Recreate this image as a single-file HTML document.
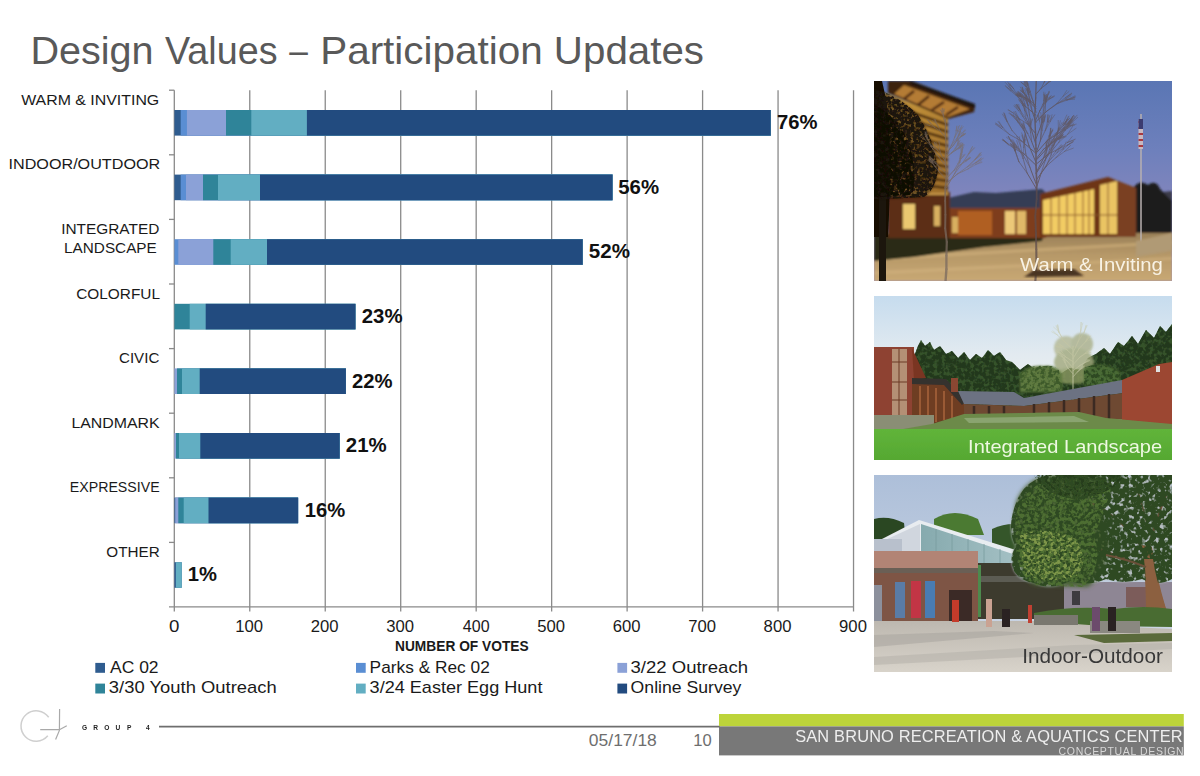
<!DOCTYPE html>
<html><head><meta charset="utf-8"><title>Design Values – Participation Updates</title>
<style>
html,body{margin:0;padding:0;background:#fff;}
body{width:1200px;height:776px;overflow:hidden;position:relative;font-family:"Liberation Sans",sans-serif;}
svg{position:absolute;left:0;top:0;}
</style></head>
<body>
<svg width="1200" height="776" viewBox="0 0 1200 776">
<line x1="249.77" y1="90.2" x2="249.77" y2="611.5" stroke="#8a8a8a" stroke-width="1.3"/>
<line x1="325.24" y1="90.2" x2="325.24" y2="611.5" stroke="#8a8a8a" stroke-width="1.3"/>
<line x1="400.71" y1="90.2" x2="400.71" y2="611.5" stroke="#8a8a8a" stroke-width="1.3"/>
<line x1="476.18" y1="90.2" x2="476.18" y2="611.5" stroke="#8a8a8a" stroke-width="1.3"/>
<line x1="551.65" y1="90.2" x2="551.65" y2="611.5" stroke="#8a8a8a" stroke-width="1.3"/>
<line x1="627.12" y1="90.2" x2="627.12" y2="611.5" stroke="#8a8a8a" stroke-width="1.3"/>
<line x1="702.59" y1="90.2" x2="702.59" y2="611.5" stroke="#8a8a8a" stroke-width="1.3"/>
<line x1="778.06" y1="90.2" x2="778.06" y2="611.5" stroke="#8a8a8a" stroke-width="1.3"/>
<line x1="853.53" y1="90.2" x2="853.53" y2="611.5" stroke="#8a8a8a" stroke-width="1.3"/>
<line x1="174.3" y1="90.2" x2="174.3" y2="611.5" stroke="#8a8a8a" stroke-width="1.3"/>
<line x1="169" y1="606.8" x2="854" y2="606.8" stroke="#8a8a8a" stroke-width="1.3"/>
<line x1="169" y1="90.20" x2="174.3" y2="90.20" stroke="#8a8a8a" stroke-width="1.3"/>
<line x1="169" y1="154.80" x2="174.3" y2="154.80" stroke="#8a8a8a" stroke-width="1.3"/>
<line x1="169" y1="219.40" x2="174.3" y2="219.40" stroke="#8a8a8a" stroke-width="1.3"/>
<line x1="169" y1="284.00" x2="174.3" y2="284.00" stroke="#8a8a8a" stroke-width="1.3"/>
<line x1="169" y1="348.60" x2="174.3" y2="348.60" stroke="#8a8a8a" stroke-width="1.3"/>
<line x1="169" y1="413.20" x2="174.3" y2="413.20" stroke="#8a8a8a" stroke-width="1.3"/>
<line x1="169" y1="477.80" x2="174.3" y2="477.80" stroke="#8a8a8a" stroke-width="1.3"/>
<line x1="169" y1="542.40" x2="174.3" y2="542.40" stroke="#8a8a8a" stroke-width="1.3"/>
<rect x="174.40" y="110.00" width="596.30" height="25.6" fill="#2f5c8f"/>
<rect x="180.70" y="110.00" width="590.00" height="25.6" fill="#5a8ed3"/>
<rect x="186.90" y="110.00" width="583.80" height="25.6" fill="#8ba1d7"/>
<rect x="226.00" y="110.00" width="544.70" height="25.6" fill="#2f8499"/>
<rect x="251.30" y="110.00" width="519.40" height="25.6" fill="#62aec2"/>
<rect x="306.90" y="110.00" width="463.80" height="25.6" fill="#224b7f"/>
<rect x="174.40" y="174.60" width="438.10" height="25.6" fill="#2f5c8f"/>
<rect x="180.70" y="174.60" width="431.80" height="25.6" fill="#5a8ed3"/>
<rect x="186.00" y="174.60" width="426.50" height="25.6" fill="#8ba1d7"/>
<rect x="203.00" y="174.60" width="409.50" height="25.6" fill="#2f8499"/>
<rect x="218.00" y="174.60" width="394.50" height="25.6" fill="#62aec2"/>
<rect x="260.00" y="174.60" width="352.50" height="25.6" fill="#224b7f"/>
<rect x="174.40" y="239.20" width="408.30" height="25.6" fill="#5a8ed3"/>
<rect x="178.30" y="239.20" width="404.40" height="25.6" fill="#8ba1d7"/>
<rect x="213.30" y="239.20" width="369.40" height="25.6" fill="#2f8499"/>
<rect x="230.70" y="239.20" width="352.00" height="25.6" fill="#62aec2"/>
<rect x="267.00" y="239.20" width="315.70" height="25.6" fill="#224b7f"/>
<rect x="174.40" y="303.80" width="181.10" height="25.6" fill="#2f8499"/>
<rect x="189.70" y="303.80" width="165.80" height="25.6" fill="#62aec2"/>
<rect x="205.70" y="303.80" width="149.80" height="25.6" fill="#224b7f"/>
<rect x="174.40" y="368.40" width="171.50" height="25.6" fill="#8ba1d7"/>
<rect x="177.00" y="368.40" width="168.90" height="25.6" fill="#2f8499"/>
<rect x="182.00" y="368.40" width="163.90" height="25.6" fill="#62aec2"/>
<rect x="199.70" y="368.40" width="146.20" height="25.6" fill="#224b7f"/>
<rect x="174.40" y="433.00" width="165.30" height="25.6" fill="#8ba1d7"/>
<rect x="176.00" y="433.00" width="163.70" height="25.6" fill="#2f8499"/>
<rect x="179.00" y="433.00" width="160.70" height="25.6" fill="#62aec2"/>
<rect x="200.30" y="433.00" width="139.40" height="25.6" fill="#224b7f"/>
<rect x="174.40" y="497.60" width="123.70" height="25.6" fill="#2f5c8f"/>
<rect x="175.20" y="497.60" width="122.90" height="25.6" fill="#8ba1d7"/>
<rect x="178.30" y="497.60" width="119.80" height="25.6" fill="#2f8499"/>
<rect x="183.70" y="497.60" width="114.40" height="25.6" fill="#62aec2"/>
<rect x="208.50" y="497.60" width="89.60" height="25.6" fill="#224b7f"/>
<rect x="174.40" y="562.20" width="7.35" height="25.6" fill="#2f5c8f"/>
<rect x="175.90" y="562.20" width="5.85" height="25.6" fill="#62aec2"/>
<rect x="95.3" y="662.9" width="9.7" height="9.9" fill="#2f5c8f"/>
<rect x="356.0" y="662.9" width="9.7" height="9.9" fill="#5a8ed3"/>
<rect x="617.4" y="662.9" width="9.7" height="9.9" fill="#8ba1d7"/>
<rect x="95.3" y="683.6" width="9.7" height="9.9" fill="#2f8499"/>
<rect x="356.0" y="683.6" width="9.7" height="9.9" fill="#62aec2"/>
<rect x="617.4" y="683.6" width="9.7" height="9.9" fill="#224b7f"/>
<text x="30.42" y="63.80" font-family="Liberation Sans" font-size="38.5" font-weight="normal" fill="#595959" textLength="123.18" lengthAdjust="spacingAndGlyphs">Design</text>
<text x="165.00" y="63.80" font-family="Liberation Sans" font-size="38.5" font-weight="normal" fill="#595959" textLength="112.56" lengthAdjust="spacingAndGlyphs">Values</text>
<text x="289.20" y="63.80" font-family="Liberation Sans" font-size="38.5" font-weight="normal" fill="#595959" textLength="18.60" lengthAdjust="spacingAndGlyphs">–</text>
<text x="320.15" y="63.80" font-family="Liberation Sans" font-size="38.5" font-weight="normal" fill="#595959" textLength="222.72" lengthAdjust="spacingAndGlyphs">Participation</text>
<text x="553.86" y="63.80" font-family="Liberation Sans" font-size="38.5" font-weight="normal" fill="#595959" textLength="150.11" lengthAdjust="spacingAndGlyphs">Updates</text>
<text x="21.20" y="105.00" font-family="Liberation Sans" font-size="14.8" font-weight="normal" fill="#1a1a1a" textLength="138.05" lengthAdjust="spacingAndGlyphs">WARM &amp; INVITING</text>
<text x="8.51" y="169.20" font-family="Liberation Sans" font-size="14.8" font-weight="normal" fill="#1a1a1a" textLength="151.72" lengthAdjust="spacingAndGlyphs">INDOOR/OUTDOOR</text>
<text x="61.16" y="233.60" font-family="Liberation Sans" font-size="14.8" font-weight="normal" fill="#1a1a1a" textLength="98.12" lengthAdjust="spacingAndGlyphs">INTEGRATED</text>
<text x="64.07" y="252.90" font-family="Liberation Sans" font-size="14.8" font-weight="normal" fill="#1a1a1a" textLength="92.70" lengthAdjust="spacingAndGlyphs">LANDSCAPE</text>
<text x="76.16" y="298.60" font-family="Liberation Sans" font-size="14.8" font-weight="normal" fill="#1a1a1a" textLength="83.84" lengthAdjust="spacingAndGlyphs">COLORFUL</text>
<text x="118.98" y="363.00" font-family="Liberation Sans" font-size="14.8" font-weight="normal" fill="#1a1a1a" textLength="40.40" lengthAdjust="spacingAndGlyphs">CIVIC</text>
<text x="71.43" y="427.50" font-family="Liberation Sans" font-size="14.8" font-weight="normal" fill="#1a1a1a" textLength="88.22" lengthAdjust="spacingAndGlyphs">LANDMARK</text>
<text x="69.84" y="492.00" font-family="Liberation Sans" font-size="14.8" font-weight="normal" fill="#1a1a1a" textLength="89.79" lengthAdjust="spacingAndGlyphs">EXPRESSIVE</text>
<text x="106.37" y="556.70" font-family="Liberation Sans" font-size="14.8" font-weight="normal" fill="#1a1a1a" textLength="53.35" lengthAdjust="spacingAndGlyphs">OTHER</text>
<text x="776.97" y="129.10" font-family="Liberation Sans" font-size="19.6" font-weight="bold" fill="#111" textLength="40.46" lengthAdjust="spacingAndGlyphs">76%</text>
<text x="618.26" y="193.70" font-family="Liberation Sans" font-size="19.6" font-weight="bold" fill="#111" textLength="40.77" lengthAdjust="spacingAndGlyphs">56%</text>
<text x="588.75" y="258.30" font-family="Liberation Sans" font-size="19.6" font-weight="bold" fill="#111" textLength="41.18" lengthAdjust="spacingAndGlyphs">52%</text>
<text x="361.76" y="322.90" font-family="Liberation Sans" font-size="19.6" font-weight="bold" fill="#111" textLength="40.77" lengthAdjust="spacingAndGlyphs">23%</text>
<text x="351.97" y="387.50" font-family="Liberation Sans" font-size="19.6" font-weight="bold" fill="#111" textLength="40.56" lengthAdjust="spacingAndGlyphs">22%</text>
<text x="345.86" y="452.10" font-family="Liberation Sans" font-size="19.6" font-weight="bold" fill="#111" textLength="40.77" lengthAdjust="spacingAndGlyphs">21%</text>
<text x="304.87" y="516.70" font-family="Liberation Sans" font-size="19.6" font-weight="bold" fill="#111" textLength="40.46" lengthAdjust="spacingAndGlyphs">16%</text>
<text x="187.67" y="581.10" font-family="Liberation Sans" font-size="19.6" font-weight="bold" fill="#111" textLength="29.17" lengthAdjust="spacingAndGlyphs">1%</text>
<text x="395.00" y="651.20" font-family="Liberation Sans" font-size="13.8" font-weight="bold" fill="#1a1a1a" textLength="133.65" lengthAdjust="spacingAndGlyphs">NUMBER OF VOTES</text>
<text x="110.00" y="672.50" font-family="Liberation Sans" font-size="16.2" font-weight="normal" fill="#1a1a1a" textLength="48.58" lengthAdjust="spacingAndGlyphs">AC 02</text>
<text x="369.63" y="672.50" font-family="Liberation Sans" font-size="16.2" font-weight="normal" fill="#1a1a1a" textLength="120.17" lengthAdjust="spacingAndGlyphs">Parks &amp; Rec 02</text>
<text x="630.56" y="672.50" font-family="Liberation Sans" font-size="16.2" font-weight="normal" fill="#1a1a1a" textLength="117.42" lengthAdjust="spacingAndGlyphs">3/22 Outreach</text>
<text x="108.86" y="692.60" font-family="Liberation Sans" font-size="16.2" font-weight="normal" fill="#1a1a1a" textLength="167.83" lengthAdjust="spacingAndGlyphs">3/30 Youth Outreach</text>
<text x="369.58" y="692.60" font-family="Liberation Sans" font-size="16.2" font-weight="normal" fill="#1a1a1a" textLength="172.87" lengthAdjust="spacingAndGlyphs">3/24 Easter Egg Hunt</text>
<text x="630.61" y="692.60" font-family="Liberation Sans" font-size="16.2" font-weight="normal" fill="#1a1a1a" textLength="110.73" lengthAdjust="spacingAndGlyphs">Online Survey</text>
<text x="588.88" y="746.00" font-family="Liberation Sans" font-size="15.6" font-weight="normal" fill="#6e6e6e" textLength="67.91" lengthAdjust="spacingAndGlyphs">05/17/18</text>
<text x="693.34" y="746.00" font-family="Liberation Sans" font-size="15.6" font-weight="normal" fill="#6e6e6e" textLength="18.44" lengthAdjust="spacingAndGlyphs">10</text>
<text x="168.90" y="632.00" font-family="Liberation Sans" font-size="15.6" font-weight="normal" fill="#1a1a1a" textLength="10.42" lengthAdjust="spacingAndGlyphs">0</text>
<text x="235.35" y="632.00" font-family="Liberation Sans" font-size="15.6" font-weight="normal" fill="#1a1a1a" textLength="27.80" lengthAdjust="spacingAndGlyphs">100</text>
<text x="310.82" y="632.00" font-family="Liberation Sans" font-size="15.6" font-weight="normal" fill="#1a1a1a" textLength="27.80" lengthAdjust="spacingAndGlyphs">200</text>
<text x="386.29" y="632.00" font-family="Liberation Sans" font-size="15.6" font-weight="normal" fill="#1a1a1a" textLength="27.80" lengthAdjust="spacingAndGlyphs">300</text>
<text x="462.83" y="632.00" font-family="Liberation Sans" font-size="15.6" font-weight="normal" fill="#1a1a1a" textLength="26.73" lengthAdjust="spacingAndGlyphs">400</text>
<text x="537.23" y="632.00" font-family="Liberation Sans" font-size="15.6" font-weight="normal" fill="#1a1a1a" textLength="27.80" lengthAdjust="spacingAndGlyphs">500</text>
<text x="612.70" y="632.00" font-family="Liberation Sans" font-size="15.6" font-weight="normal" fill="#1a1a1a" textLength="27.80" lengthAdjust="spacingAndGlyphs">600</text>
<text x="688.17" y="632.00" font-family="Liberation Sans" font-size="15.6" font-weight="normal" fill="#1a1a1a" textLength="27.80" lengthAdjust="spacingAndGlyphs">700</text>
<text x="763.64" y="632.00" font-family="Liberation Sans" font-size="15.6" font-weight="normal" fill="#1a1a1a" textLength="27.80" lengthAdjust="spacingAndGlyphs">800</text>
<text x="839.11" y="632.00" font-family="Liberation Sans" font-size="15.6" font-weight="normal" fill="#1a1a1a" textLength="27.80" lengthAdjust="spacingAndGlyphs">900</text>
<defs>
<clipPath id="c1"><rect x="0" y="0" width="298" height="200"/></clipPath>
<clipPath id="c2"><rect x="0" y="0" width="298" height="164"/></clipPath>
<clipPath id="c3"><rect x="0" y="0" width="298" height="197"/></clipPath>
<filter id="b05" x="-10%" y="-10%" width="120%" height="120%"><feGaussianBlur stdDeviation="0.5"/></filter>
<filter id="b1" x="-10%" y="-10%" width="120%" height="120%"><feGaussianBlur stdDeviation="0.9"/></filter>
<filter id="b2" x="-10%" y="-10%" width="120%" height="120%"><feGaussianBlur stdDeviation="2"/></filter>
<filter id="leaf" x="0" y="0" width="100%" height="100%">
 <feTurbulence type="fractalNoise" baseFrequency="0.3" numOctaves="2" seed="3" result="n"/>
 <feColorMatrix in="n" type="matrix" values="0 0 0 0 0  0 0 0 0 0  0 0 0 0 0  0 0 0 -5 3.4" result="m"/>
 <feComposite in="SourceGraphic" in2="m" operator="in"/>
</filter>
<filter id="leafA" x="0" y="0" width="100%" height="100%">
 <feTurbulence type="fractalNoise" baseFrequency="0.22" numOctaves="2" seed="5" result="n"/>
 <feColorMatrix in="n" type="matrix" values="0 0 0 0 0  0 0 0 0 0  0 0 0 0 0  0 0 0 -5 3.75" result="m"/>
 <feComposite in="SourceGraphic" in2="m" operator="in"/>
</filter>
<filter id="leafB" x="0" y="0" width="100%" height="100%">
 <feTurbulence type="fractalNoise" baseFrequency="0.28" numOctaves="2" seed="8" result="n"/>
 <feColorMatrix in="n" type="matrix" values="0 0 0 0 0  0 0 0 0 0  0 0 0 0 0  0 0 0 -5 2.9" result="m"/>
 <feComposite in="SourceGraphic" in2="m" operator="in"/>
</filter>
<filter id="leafC" x="0" y="0" width="100%" height="100%">
 <feTurbulence type="fractalNoise" baseFrequency="0.3" numOctaves="2" seed="12" result="n"/>
 <feColorMatrix in="n" type="matrix" values="0 0 0 0 0  0 0 0 0 0  0 0 0 0 0  0 0 0 -5 2.7" result="m"/>
 <feComposite in="SourceGraphic" in2="m" operator="in"/>
</filter>
<filter id="leaf2" x="0" y="0" width="100%" height="100%">
 <feTurbulence type="fractalNoise" baseFrequency="0.25" numOctaves="2" seed="9" result="n"/>
 <feColorMatrix in="n" type="matrix" values="0 0 0 0 0  0 0 0 0 0  0 0 0 0 0  0 0 0 -5 3.3" result="m"/>
 <feComposite in="SourceGraphic" in2="m" operator="in"/>
</filter>
<linearGradient id="sky1" x1="0" y1="0" x2="0" y2="1">
 <stop offset="0" stop-color="#5a76b4"/><stop offset="0.35" stop-color="#6e80bc"/><stop offset="0.7" stop-color="#8a88bc"/><stop offset="1" stop-color="#a090b8"/>
</linearGradient>
<linearGradient id="pave1" x1="0" y1="0" x2="0" y2="1">
 <stop offset="0" stop-color="#9a8058"/><stop offset="0.45" stop-color="#b69868"/><stop offset="1" stop-color="#c8a874"/>
</linearGradient>
<linearGradient id="fac1" x1="0" y1="0" x2="1" y2="1">
 <stop offset="0" stop-color="#d0a040"/><stop offset="1" stop-color="#9c6c2a"/>
</linearGradient>
<linearGradient id="sky2" x1="0" y1="0" x2="0" y2="1">
 <stop offset="0" stop-color="#c6dcee"/><stop offset="0.35" stop-color="#e2eaf0"/><stop offset="0.6" stop-color="#eff1ef"/><stop offset="1" stop-color="#f5f4ec"/>
</linearGradient>
<linearGradient id="lawn2" x1="0" y1="0" x2="0" y2="1">
 <stop offset="0" stop-color="#60b43a"/><stop offset="1" stop-color="#56a832"/>
</linearGradient>
<linearGradient id="sky3" x1="0" y1="0" x2="0" y2="1">
 <stop offset="0" stop-color="#adbfd9"/><stop offset="1" stop-color="#d2dae6"/>
</linearGradient>
<linearGradient id="plaza3" x1="0" y1="0" x2="0" y2="1">
 <stop offset="0" stop-color="#bdb8b0"/><stop offset="1" stop-color="#d8d3ca"/>
</linearGradient>
<linearGradient id="glass3" x1="0" y1="0" x2="1" y2="0">
 <stop offset="0" stop-color="#86aaae"/><stop offset="1" stop-color="#a4c0c4"/>
</linearGradient>
</defs>

<!-- PHOTO 1: Warm & Inviting -->
<g transform="translate(874,81)" clip-path="url(#c1)">
 <rect width="298" height="200" fill="url(#sky1)"/>
 <g filter="url(#b1)">
 <!-- far right trees/hills -->
 <path d="M262 118 L280 112 L298 110 L298 160 L262 160Z" fill="#3a3a4a"/>
 <path d="M260 106 q6 -8 14 -2 q8 -6 12 4 L298 120 L298 158 L260 158Z" fill="#1c1d1c"/>
 <!-- pavement -->
 <rect x="0" y="152" width="298" height="48" fill="url(#pave1)"/>
 <path d="M0 176 L298 160 L298 163 L0 180Z" fill="#d0b07c" opacity="0.6"/>
 <path d="M0 190 L298 176 L298 179 L0 194Z" fill="#d4b480" opacity="0.5"/>
 <!-- grass band left -->
 <path d="M0 153 L170 154 L168 160 L110 166 L40 176 L0 180Z" fill="#2a2c18"/>
 <!-- middle long building roof -->
 <path d="M74 117 L100 111 L122 112 L168 108 L172 112 L172 130 L74 130Z" fill="#343c54"/>
 <!-- middle building body -->
 <rect x="76" y="127" width="96" height="30" fill="#7e3e1a"/>
 <rect x="84" y="130" width="34" height="24" fill="#b05e20"/>
 <rect x="131" y="130" width="10" height="23" fill="#ecc878"/>
 <rect x="143" y="130" width="9" height="23" fill="#e0b868"/>
 <rect x="78" y="136" width="6" height="16" fill="#d8b060"/>
 <!-- big lit building -->
 <path d="M166 113 L234 96 L262 107 L262 156 L166 156Z" fill="#6e3618"/>
 <path d="M169 119 L220 108 L220 153 L169 153Z" fill="#f2cc64"/>
 <path d="M226 104 L243 100 L243 153 L226 153Z" fill="#eac464"/>
 <g stroke="#8a5a28" stroke-width="1">
  <line x1="177" y1="117" x2="177" y2="153"/><line x1="185" y1="115" x2="185" y2="153"/><line x1="193" y1="113" x2="193" y2="153"/><line x1="201" y1="112" x2="201" y2="153"/><line x1="209" y1="110" x2="209" y2="153"/><line x1="215" y1="109" x2="215" y2="153"/>
  <line x1="169" y1="134" x2="243" y2="134"/><line x1="234" y1="102" x2="234" y2="153"/>
 </g>
 <path d="M243 100 L262 107 L262 156 L243 156Z" fill="#7a4020"/>
 <!-- left lower building -->
 <rect x="14" y="111" width="62" height="46" fill="#5c2e14"/>
 <rect x="29" y="123" width="12" height="25" fill="#eac870"/>
 <rect x="60" y="125" width="6" height="20" fill="#d8b060"/>
 <rect x="14" y="108" width="60" height="6" fill="#c89848"/>
 <!-- left upper building louvers -->
 <path d="M0 8 L74 36 L74 112 L0 112Z" fill="url(#fac1)"/>
 <g stroke="#4a2a10" stroke-width="2.6">
  <line x1="0" y1="18" x2="74" y2="44"/><line x1="0" y1="27" x2="74" y2="51"/><line x1="0" y1="36" x2="74" y2="58"/>
  <line x1="0" y1="45" x2="74" y2="65"/><line x1="0" y1="54" x2="74" y2="72"/><line x1="0" y1="63" x2="74" y2="79"/>
  <line x1="0" y1="72" x2="74" y2="86"/><line x1="0" y1="81" x2="74" y2="93"/><line x1="0" y1="90" x2="74" y2="100"/><line x1="0" y1="99" x2="74" y2="107"/>
 </g>
 <!-- roof overhang -->
 <path d="M14 0 L38 0 L101 24 L100 31 L74 38 L14 12Z" fill="#3e2010"/>
 <path d="M30 4 L96 28 L74 36 L20 13Z" fill="#b47c34"/>
 <g stroke="#4a2612" stroke-width="2.5"><line x1="40" y1="10" x2="30" y2="18"/><line x1="55" y1="15" x2="44" y2="24"/><line x1="70" y1="21" x2="58" y2="29"/><line x1="84" y1="26" x2="72" y2="34"/></g>
 <path d="M36 0 L101 23 L101 27 L36 3Z" fill="#1e1410"/>
 </g>
 <!-- dark tree left (textured) -->
 <g filter="url(#b05)">
 <path d="M0 0 L8 0 Q16 30 16 70 Q16 120 14 156 L0 156Z" fill="#120c06"/>
 <rect x="5" y="100" width="7" height="100" fill="#1a120a"/>
 </g>
 <path d="M0 8 Q24 14 44 34 Q60 58 64 88 Q62 108 50 116 L14 118 L0 118Z" fill="#1a120a" opacity="0.45" filter="url(#b1)"/>
 <g filter="url(#leaf)"><path d="M0 8 Q24 14 44 34 Q60 58 64 88 Q62 108 50 116 L14 118 L0 118Z" fill="#1a120a"/></g>
 <g filter="url(#leaf2)"><path d="M0 24 Q22 34 34 60 Q44 90 38 114 L0 116Z" fill="#100a06"/></g>
 <!-- bare trees -->
 <g filter="url(#b05)">
 <g stroke="#5e4e4c" opacity="0.75" stroke-linecap="round" fill="none"><line x1="161.2" y1="202.0" x2="162.5" y2="185.2" stroke-width="2.20"/><line x1="162.5" y1="185.2" x2="162.3" y2="168.3" stroke-width="2.11"/><line x1="162.3" y1="168.3" x2="161.9" y2="151.5" stroke-width="2.02"/><line x1="161.9" y1="151.5" x2="161.3" y2="134.7" stroke-width="1.93"/><line x1="161.3" y1="134.7" x2="162.7" y2="117.8" stroke-width="1.83"/><line x1="162.7" y1="117.8" x2="162.7" y2="101.0" stroke-width="1.74"/><line x1="162.7" y1="101.0" x2="162.0" y2="84.2" stroke-width="1.65"/><line x1="162.0" y1="84.2" x2="162.0" y2="67.3" stroke-width="1.56"/><line x1="162.0" y1="67.3" x2="161.4" y2="50.5" stroke-width="1.47"/><line x1="161.4" y1="50.5" x2="160.8" y2="33.7" stroke-width="1.38"/><line x1="160.8" y1="33.7" x2="161.7" y2="16.8" stroke-width="1.28"/><line x1="161.7" y1="16.8" x2="162.2" y2="0.0" stroke-width="1.19"/><line x1="162.0" y1="13.0" x2="167.3" y2="7.2" stroke-width="1.00"/><line x1="167.3" y1="7.2" x2="170.3" y2="1.1" stroke-width="0.70"/><line x1="170.3" y1="1.1" x2="173.8" y2="-3.0" stroke-width="0.50"/><line x1="173.8" y1="-3.0" x2="176.1" y2="-6.4" stroke-width="0.50"/><line x1="173.8" y1="-3.0" x2="175.8" y2="-7.1" stroke-width="0.50"/><line x1="170.3" y1="1.1" x2="172.1" y2="-3.3" stroke-width="0.50"/><line x1="172.1" y1="-3.3" x2="172.7" y2="-7.4" stroke-width="0.50"/><line x1="172.1" y1="-3.3" x2="173.4" y2="-6.8" stroke-width="0.50"/><line x1="172.1" y1="-3.3" x2="173.1" y2="-6.9" stroke-width="0.50"/><line x1="170.3" y1="1.1" x2="171.6" y2="-3.4" stroke-width="0.50"/><line x1="171.6" y1="-3.4" x2="171.9" y2="-7.2" stroke-width="0.50"/><line x1="171.6" y1="-3.4" x2="171.9" y2="-7.3" stroke-width="0.50"/><line x1="171.6" y1="-3.4" x2="173.4" y2="-6.7" stroke-width="0.50"/><line x1="167.3" y1="7.2" x2="172.2" y2="3.4" stroke-width="0.70"/><line x1="172.2" y1="3.4" x2="175.2" y2="-0.3" stroke-width="0.50"/><line x1="175.2" y1="-0.3" x2="177.1" y2="-3.8" stroke-width="0.50"/><line x1="175.2" y1="-0.3" x2="178.0" y2="-2.5" stroke-width="0.50"/><line x1="175.2" y1="-0.3" x2="177.2" y2="-3.3" stroke-width="0.50"/><line x1="172.2" y1="3.4" x2="176.2" y2="-0.1" stroke-width="0.50"/><line x1="176.2" y1="-0.1" x2="178.1" y2="-3.3" stroke-width="0.50"/><line x1="176.2" y1="-0.1" x2="180.0" y2="-2.7" stroke-width="0.50"/><line x1="172.2" y1="3.4" x2="176.0" y2="0.5" stroke-width="0.50"/><line x1="176.0" y1="0.5" x2="179.0" y2="-1.2" stroke-width="0.50"/><line x1="176.0" y1="0.5" x2="179.1" y2="-1.6" stroke-width="0.50"/><line x1="162.0" y1="71.8" x2="157.6" y2="60.5" stroke-width="1.00"/><line x1="157.6" y1="60.5" x2="156.6" y2="51.4" stroke-width="0.70"/><line x1="156.6" y1="51.4" x2="155.2" y2="45.3" stroke-width="0.50"/><line x1="155.2" y1="45.3" x2="155.1" y2="40.1" stroke-width="0.50"/><line x1="155.2" y1="45.3" x2="153.7" y2="40.4" stroke-width="0.50"/><line x1="156.6" y1="51.4" x2="156.7" y2="43.8" stroke-width="0.50"/><line x1="156.7" y1="43.8" x2="156.3" y2="37.3" stroke-width="0.50"/><line x1="156.7" y1="43.8" x2="158.4" y2="38.1" stroke-width="0.50"/><line x1="156.7" y1="43.8" x2="158.1" y2="38.1" stroke-width="0.50"/><line x1="157.6" y1="60.5" x2="153.7" y2="52.5" stroke-width="0.70"/><line x1="153.7" y1="52.5" x2="149.9" y2="47.7" stroke-width="0.50"/><line x1="149.9" y1="47.7" x2="147.7" y2="43.5" stroke-width="0.50"/><line x1="149.9" y1="47.7" x2="148.1" y2="43.9" stroke-width="0.50"/><line x1="149.9" y1="47.7" x2="146.7" y2="44.6" stroke-width="0.50"/><line x1="153.7" y1="52.5" x2="150.7" y2="47.0" stroke-width="0.50"/><line x1="150.7" y1="47.0" x2="147.7" y2="42.6" stroke-width="0.50"/><line x1="150.7" y1="47.0" x2="149.7" y2="42.0" stroke-width="0.50"/><line x1="153.7" y1="52.5" x2="150.8" y2="46.8" stroke-width="0.50"/><line x1="150.8" y1="46.8" x2="148.6" y2="42.1" stroke-width="0.50"/><line x1="150.8" y1="46.8" x2="147.7" y2="43.4" stroke-width="0.50"/><line x1="150.8" y1="46.8" x2="149.5" y2="41.6" stroke-width="0.50"/><line x1="162.0" y1="99.4" x2="172.3" y2="85.2" stroke-width="1.00"/><line x1="172.3" y1="85.2" x2="182.1" y2="76.6" stroke-width="0.70"/><line x1="182.1" y1="76.6" x2="188.9" y2="68.6" stroke-width="0.50"/><line x1="188.9" y1="68.6" x2="195.6" y2="62.5" stroke-width="0.50"/><line x1="188.9" y1="68.6" x2="192.2" y2="60.9" stroke-width="0.50"/><line x1="182.1" y1="76.6" x2="190.8" y2="70.3" stroke-width="0.50"/><line x1="190.8" y1="70.3" x2="196.5" y2="64.5" stroke-width="0.50"/><line x1="190.8" y1="70.3" x2="199.3" y2="67.2" stroke-width="0.50"/><line x1="172.3" y1="85.2" x2="177.1" y2="73.9" stroke-width="0.70"/><line x1="177.1" y1="73.9" x2="178.0" y2="64.6" stroke-width="0.50"/><line x1="178.0" y1="64.6" x2="180.5" y2="57.6" stroke-width="0.50"/><line x1="178.0" y1="64.6" x2="177.1" y2="57.4" stroke-width="0.50"/><line x1="177.1" y1="73.9" x2="179.8" y2="64.8" stroke-width="0.50"/><line x1="179.8" y1="64.8" x2="180.3" y2="58.1" stroke-width="0.50"/><line x1="179.8" y1="64.8" x2="181.4" y2="57.4" stroke-width="0.50"/><line x1="162.0" y1="64.1" x2="157.2" y2="47.9" stroke-width="1.00"/><line x1="157.2" y1="47.9" x2="155.5" y2="34.0" stroke-width="0.70"/><line x1="155.5" y1="34.0" x2="154.2" y2="24.5" stroke-width="0.50"/><line x1="154.2" y1="24.5" x2="151.5" y2="17.2" stroke-width="0.50"/><line x1="154.2" y1="24.5" x2="151.9" y2="17.1" stroke-width="0.50"/><line x1="154.2" y1="24.5" x2="152.5" y2="18.1" stroke-width="0.50"/><line x1="155.5" y1="34.0" x2="153.6" y2="24.0" stroke-width="0.50"/><line x1="153.6" y1="24.0" x2="151.1" y2="16.4" stroke-width="0.50"/><line x1="153.6" y1="24.0" x2="152.2" y2="15.3" stroke-width="0.50"/><line x1="153.6" y1="24.0" x2="150.2" y2="16.6" stroke-width="0.50"/><line x1="157.2" y1="47.9" x2="153.3" y2="34.7" stroke-width="0.70"/><line x1="153.3" y1="34.7" x2="148.9" y2="24.5" stroke-width="0.50"/><line x1="148.9" y1="24.5" x2="146.2" y2="17.3" stroke-width="0.50"/><line x1="148.9" y1="24.5" x2="147.0" y2="15.2" stroke-width="0.50"/><line x1="153.3" y1="34.7" x2="149.6" y2="25.2" stroke-width="0.50"/><line x1="149.6" y1="25.2" x2="145.5" y2="19.5" stroke-width="0.50"/><line x1="149.6" y1="25.2" x2="144.5" y2="18.5" stroke-width="0.50"/><line x1="149.6" y1="25.2" x2="147.9" y2="17.7" stroke-width="0.50"/><line x1="153.3" y1="34.7" x2="151.3" y2="25.5" stroke-width="0.50"/><line x1="151.3" y1="25.5" x2="149.6" y2="18.4" stroke-width="0.50"/><line x1="151.3" y1="25.5" x2="149.4" y2="18.6" stroke-width="0.50"/><line x1="157.2" y1="47.9" x2="151.9" y2="37.4" stroke-width="0.70"/><line x1="151.9" y1="37.4" x2="146.5" y2="29.8" stroke-width="0.50"/><line x1="146.5" y1="29.8" x2="143.1" y2="23.4" stroke-width="0.50"/><line x1="146.5" y1="29.8" x2="141.5" y2="24.8" stroke-width="0.50"/><line x1="146.5" y1="29.8" x2="142.1" y2="23.7" stroke-width="0.50"/><line x1="151.9" y1="37.4" x2="150.6" y2="29.4" stroke-width="0.50"/><line x1="150.6" y1="29.4" x2="149.4" y2="23.0" stroke-width="0.50"/><line x1="150.6" y1="29.4" x2="151.0" y2="22.8" stroke-width="0.50"/><line x1="162.0" y1="72.3" x2="173.6" y2="59.2" stroke-width="1.00"/><line x1="173.6" y1="59.2" x2="184.1" y2="50.0" stroke-width="0.70"/><line x1="184.1" y1="50.0" x2="193.5" y2="45.3" stroke-width="0.50"/><line x1="193.5" y1="45.3" x2="202.2" y2="43.1" stroke-width="0.50"/><line x1="193.5" y1="45.3" x2="200.6" y2="44.2" stroke-width="0.50"/><line x1="184.1" y1="50.0" x2="191.0" y2="42.3" stroke-width="0.50"/><line x1="191.0" y1="42.3" x2="194.9" y2="35.3" stroke-width="0.50"/><line x1="191.0" y1="42.3" x2="194.4" y2="35.5" stroke-width="0.50"/><line x1="173.6" y1="59.2" x2="185.6" y2="51.6" stroke-width="0.70"/><line x1="185.6" y1="51.6" x2="193.9" y2="42.8" stroke-width="0.50"/><line x1="193.9" y1="42.8" x2="198.7" y2="35.3" stroke-width="0.50"/><line x1="193.9" y1="42.8" x2="201.2" y2="36.4" stroke-width="0.50"/><line x1="193.9" y1="42.8" x2="199.8" y2="34.3" stroke-width="0.50"/><line x1="185.6" y1="51.6" x2="193.6" y2="45.1" stroke-width="0.50"/><line x1="193.6" y1="45.1" x2="198.8" y2="38.7" stroke-width="0.50"/><line x1="193.6" y1="45.1" x2="198.9" y2="38.9" stroke-width="0.50"/><line x1="193.6" y1="45.1" x2="198.9" y2="39.5" stroke-width="0.50"/><line x1="173.6" y1="59.2" x2="184.8" y2="52.0" stroke-width="0.70"/><line x1="184.8" y1="52.0" x2="193.4" y2="47.4" stroke-width="0.50"/><line x1="193.4" y1="47.4" x2="199.4" y2="43.6" stroke-width="0.50"/><line x1="193.4" y1="47.4" x2="199.8" y2="42.1" stroke-width="0.50"/><line x1="184.8" y1="52.0" x2="192.0" y2="43.7" stroke-width="0.50"/><line x1="192.0" y1="43.7" x2="197.6" y2="38.6" stroke-width="0.50"/><line x1="192.0" y1="43.7" x2="196.9" y2="37.9" stroke-width="0.50"/><line x1="192.0" y1="43.7" x2="198.2" y2="37.3" stroke-width="0.50"/><line x1="162.0" y1="31.2" x2="158.9" y2="19.8" stroke-width="1.00"/><line x1="158.9" y1="19.8" x2="155.5" y2="11.4" stroke-width="0.70"/><line x1="155.5" y1="11.4" x2="152.6" y2="5.8" stroke-width="0.50"/><line x1="152.6" y1="5.8" x2="151.4" y2="1.1" stroke-width="0.50"/><line x1="152.6" y1="5.8" x2="149.6" y2="2.5" stroke-width="0.50"/><line x1="152.6" y1="5.8" x2="150.2" y2="1.5" stroke-width="0.50"/><line x1="155.5" y1="11.4" x2="151.6" y2="5.2" stroke-width="0.50"/><line x1="151.6" y1="5.2" x2="149.8" y2="-0.8" stroke-width="0.50"/><line x1="151.6" y1="5.2" x2="147.2" y2="1.4" stroke-width="0.50"/><line x1="151.6" y1="5.2" x2="147.0" y2="0.9" stroke-width="0.50"/><line x1="155.5" y1="11.4" x2="153.8" y2="4.3" stroke-width="0.50"/><line x1="153.8" y1="4.3" x2="150.9" y2="-1.0" stroke-width="0.50"/><line x1="153.8" y1="4.3" x2="152.9" y2="-1.4" stroke-width="0.50"/><line x1="158.9" y1="19.8" x2="156.2" y2="10.4" stroke-width="0.70"/><line x1="156.2" y1="10.4" x2="153.2" y2="3.9" stroke-width="0.50"/><line x1="153.2" y1="3.9" x2="151.1" y2="-1.8" stroke-width="0.50"/><line x1="153.2" y1="3.9" x2="149.9" y2="0.0" stroke-width="0.50"/><line x1="156.2" y1="10.4" x2="154.0" y2="2.9" stroke-width="0.50"/><line x1="154.0" y1="2.9" x2="151.8" y2="-2.0" stroke-width="0.50"/><line x1="154.0" y1="2.9" x2="150.8" y2="-2.1" stroke-width="0.50"/><line x1="162.0" y1="78.0" x2="169.7" y2="68.1" stroke-width="1.00"/><line x1="169.7" y1="68.1" x2="177.6" y2="62.3" stroke-width="0.70"/><line x1="177.6" y1="62.3" x2="184.5" y2="58.3" stroke-width="0.50"/><line x1="184.5" y1="58.3" x2="189.1" y2="53.7" stroke-width="0.50"/><line x1="184.5" y1="58.3" x2="188.6" y2="54.8" stroke-width="0.50"/><line x1="177.6" y1="62.3" x2="183.2" y2="57.2" stroke-width="0.50"/><line x1="183.2" y1="57.2" x2="186.8" y2="52.3" stroke-width="0.50"/><line x1="183.2" y1="57.2" x2="187.2" y2="53.6" stroke-width="0.50"/><line x1="169.7" y1="68.1" x2="177.7" y2="61.5" stroke-width="0.70"/><line x1="177.7" y1="61.5" x2="184.0" y2="57.4" stroke-width="0.50"/><line x1="184.0" y1="57.4" x2="189.5" y2="55.6" stroke-width="0.50"/><line x1="184.0" y1="57.4" x2="190.1" y2="55.4" stroke-width="0.50"/><line x1="184.0" y1="57.4" x2="189.1" y2="53.6" stroke-width="0.50"/><line x1="177.7" y1="61.5" x2="185.6" y2="58.0" stroke-width="0.50"/><line x1="185.6" y1="58.0" x2="191.5" y2="54.8" stroke-width="0.50"/><line x1="185.6" y1="58.0" x2="192.1" y2="55.7" stroke-width="0.50"/><line x1="177.7" y1="61.5" x2="183.8" y2="57.4" stroke-width="0.50"/><line x1="183.8" y1="57.4" x2="189.0" y2="54.0" stroke-width="0.50"/><line x1="183.8" y1="57.4" x2="188.3" y2="52.9" stroke-width="0.50"/><line x1="183.8" y1="57.4" x2="188.9" y2="54.1" stroke-width="0.50"/><line x1="162.0" y1="84.3" x2="150.9" y2="73.6" stroke-width="1.00"/><line x1="150.9" y1="73.6" x2="142.6" y2="66.5" stroke-width="0.70"/><line x1="142.6" y1="66.5" x2="137.6" y2="60.0" stroke-width="0.50"/><line x1="137.6" y1="60.0" x2="132.6" y2="56.5" stroke-width="0.50"/><line x1="137.6" y1="60.0" x2="134.4" y2="55.5" stroke-width="0.50"/><line x1="142.6" y1="66.5" x2="137.2" y2="60.7" stroke-width="0.50"/><line x1="137.2" y1="60.7" x2="134.4" y2="55.4" stroke-width="0.50"/><line x1="137.2" y1="60.7" x2="134.3" y2="55.4" stroke-width="0.50"/><line x1="150.9" y1="73.6" x2="141.4" y2="68.0" stroke-width="0.70"/><line x1="141.4" y1="68.0" x2="133.9" y2="62.7" stroke-width="0.50"/><line x1="133.9" y1="62.7" x2="129.0" y2="58.3" stroke-width="0.50"/><line x1="133.9" y1="62.7" x2="128.2" y2="58.9" stroke-width="0.50"/><line x1="133.9" y1="62.7" x2="128.5" y2="58.8" stroke-width="0.50"/><line x1="141.4" y1="68.0" x2="134.2" y2="63.5" stroke-width="0.50"/><line x1="134.2" y1="63.5" x2="129.3" y2="58.9" stroke-width="0.50"/><line x1="134.2" y1="63.5" x2="129.1" y2="58.8" stroke-width="0.50"/><line x1="162.0" y1="83.4" x2="173.8" y2="73.4" stroke-width="1.00"/><line x1="173.8" y1="73.4" x2="180.3" y2="62.9" stroke-width="0.70"/><line x1="180.3" y1="62.9" x2="186.4" y2="54.1" stroke-width="0.50"/><line x1="186.4" y1="54.1" x2="190.0" y2="46.3" stroke-width="0.50"/><line x1="186.4" y1="54.1" x2="192.2" y2="48.5" stroke-width="0.50"/><line x1="180.3" y1="62.9" x2="182.9" y2="54.0" stroke-width="0.50"/><line x1="182.9" y1="54.0" x2="184.8" y2="47.2" stroke-width="0.50"/><line x1="182.9" y1="54.0" x2="184.4" y2="46.8" stroke-width="0.50"/><line x1="182.9" y1="54.0" x2="185.3" y2="47.0" stroke-width="0.50"/><line x1="173.8" y1="73.4" x2="185.0" y2="67.6" stroke-width="0.70"/><line x1="185.0" y1="67.6" x2="193.4" y2="61.5" stroke-width="0.50"/><line x1="193.4" y1="61.5" x2="200.3" y2="58.9" stroke-width="0.50"/><line x1="193.4" y1="61.5" x2="201.4" y2="58.1" stroke-width="0.50"/><line x1="193.4" y1="61.5" x2="198.2" y2="55.6" stroke-width="0.50"/><line x1="185.0" y1="67.6" x2="193.3" y2="64.3" stroke-width="0.50"/><line x1="193.3" y1="64.3" x2="199.4" y2="60.6" stroke-width="0.50"/><line x1="193.3" y1="64.3" x2="198.8" y2="61.1" stroke-width="0.50"/><line x1="193.3" y1="64.3" x2="199.0" y2="60.5" stroke-width="0.50"/><line x1="162.0" y1="81.5" x2="154.8" y2="64.2" stroke-width="1.00"/><line x1="154.8" y1="64.2" x2="150.7" y2="50.8" stroke-width="0.70"/><line x1="150.7" y1="50.8" x2="145.8" y2="42.5" stroke-width="0.50"/><line x1="145.8" y1="42.5" x2="142.1" y2="36.8" stroke-width="0.50"/><line x1="145.8" y1="42.5" x2="143.6" y2="35.1" stroke-width="0.50"/><line x1="150.7" y1="50.8" x2="144.2" y2="41.5" stroke-width="0.50"/><line x1="144.2" y1="41.5" x2="139.1" y2="34.5" stroke-width="0.50"/><line x1="144.2" y1="41.5" x2="141.6" y2="33.5" stroke-width="0.50"/><line x1="154.8" y1="64.2" x2="150.3" y2="50.0" stroke-width="0.70"/><line x1="150.3" y1="50.0" x2="145.5" y2="38.9" stroke-width="0.50"/><line x1="145.5" y1="38.9" x2="141.5" y2="30.4" stroke-width="0.50"/><line x1="145.5" y1="38.9" x2="140.0" y2="30.5" stroke-width="0.50"/><line x1="150.3" y1="50.0" x2="143.5" y2="40.3" stroke-width="0.50"/><line x1="143.5" y1="40.3" x2="136.9" y2="33.8" stroke-width="0.50"/><line x1="143.5" y1="40.3" x2="139.1" y2="33.3" stroke-width="0.50"/><line x1="162.0" y1="57.7" x2="168.0" y2="41.8" stroke-width="1.00"/><line x1="168.0" y1="41.8" x2="171.1" y2="30.0" stroke-width="0.70"/><line x1="171.1" y1="30.0" x2="171.6" y2="21.3" stroke-width="0.50"/><line x1="171.6" y1="21.3" x2="173.3" y2="15.3" stroke-width="0.50"/><line x1="171.6" y1="21.3" x2="170.4" y2="14.7" stroke-width="0.50"/><line x1="171.1" y1="30.0" x2="171.3" y2="20.7" stroke-width="0.50"/><line x1="171.3" y1="20.7" x2="170.0" y2="13.4" stroke-width="0.50"/><line x1="171.3" y1="20.7" x2="171.5" y2="14.3" stroke-width="0.50"/><line x1="171.3" y1="20.7" x2="170.2" y2="13.6" stroke-width="0.50"/><line x1="168.0" y1="41.8" x2="169.4" y2="29.7" stroke-width="0.70"/><line x1="169.4" y1="29.7" x2="172.2" y2="20.7" stroke-width="0.50"/><line x1="172.2" y1="20.7" x2="172.2" y2="13.7" stroke-width="0.50"/><line x1="172.2" y1="20.7" x2="173.8" y2="12.9" stroke-width="0.50"/><line x1="169.4" y1="29.7" x2="169.6" y2="19.7" stroke-width="0.50"/><line x1="169.6" y1="19.7" x2="169.7" y2="11.2" stroke-width="0.50"/><line x1="169.6" y1="19.7" x2="171.1" y2="11.9" stroke-width="0.50"/><line x1="162.0" y1="25.0" x2="156.3" y2="19.7" stroke-width="1.00"/><line x1="156.3" y1="19.7" x2="152.4" y2="14.7" stroke-width="0.70"/><line x1="152.4" y1="14.7" x2="148.9" y2="11.7" stroke-width="0.50"/><line x1="148.9" y1="11.7" x2="146.4" y2="9.1" stroke-width="0.50"/><line x1="148.9" y1="11.7" x2="146.8" y2="9.1" stroke-width="0.50"/><line x1="152.4" y1="14.7" x2="149.3" y2="11.6" stroke-width="0.50"/><line x1="149.3" y1="11.6" x2="147.3" y2="8.7" stroke-width="0.50"/><line x1="149.3" y1="11.6" x2="146.6" y2="9.9" stroke-width="0.50"/><line x1="156.3" y1="19.7" x2="150.8" y2="16.7" stroke-width="0.70"/><line x1="150.8" y1="16.7" x2="146.4" y2="15.2" stroke-width="0.50"/><line x1="146.4" y1="15.2" x2="142.8" y2="14.2" stroke-width="0.50"/><line x1="146.4" y1="15.2" x2="143.1" y2="13.8" stroke-width="0.50"/><line x1="146.4" y1="15.2" x2="143.2" y2="14.0" stroke-width="0.50"/><line x1="150.8" y1="16.7" x2="146.2" y2="15.3" stroke-width="0.50"/><line x1="146.2" y1="15.3" x2="142.9" y2="14.6" stroke-width="0.50"/><line x1="146.2" y1="15.3" x2="143.2" y2="13.3" stroke-width="0.50"/><line x1="156.3" y1="19.7" x2="151.7" y2="16.9" stroke-width="0.70"/><line x1="151.7" y1="16.9" x2="148.9" y2="14.1" stroke-width="0.50"/><line x1="148.9" y1="14.1" x2="146.4" y2="12.3" stroke-width="0.50"/><line x1="148.9" y1="14.1" x2="146.6" y2="11.9" stroke-width="0.50"/><line x1="151.7" y1="16.9" x2="148.4" y2="14.7" stroke-width="0.50"/><line x1="148.4" y1="14.7" x2="145.7" y2="12.8" stroke-width="0.50"/><line x1="148.4" y1="14.7" x2="146.0" y2="12.8" stroke-width="0.50"/><line x1="162.0" y1="40.6" x2="173.0" y2="30.0" stroke-width="1.00"/><line x1="173.0" y1="30.0" x2="183.0" y2="22.4" stroke-width="0.70"/><line x1="183.0" y1="22.4" x2="192.8" y2="18.7" stroke-width="0.50"/><line x1="192.8" y1="18.7" x2="200.6" y2="18.3" stroke-width="0.50"/><line x1="192.8" y1="18.7" x2="201.0" y2="14.9" stroke-width="0.50"/><line x1="183.0" y1="22.4" x2="189.1" y2="15.2" stroke-width="0.50"/><line x1="189.1" y1="15.2" x2="192.8" y2="9.4" stroke-width="0.50"/><line x1="189.1" y1="15.2" x2="194.9" y2="10.6" stroke-width="0.50"/><line x1="173.0" y1="30.0" x2="183.3" y2="22.7" stroke-width="0.70"/><line x1="183.3" y1="22.7" x2="193.1" y2="19.0" stroke-width="0.50"/><line x1="193.1" y1="19.0" x2="200.9" y2="16.0" stroke-width="0.50"/><line x1="193.1" y1="19.0" x2="201.4" y2="15.9" stroke-width="0.50"/><line x1="193.1" y1="19.0" x2="200.7" y2="17.0" stroke-width="0.50"/><line x1="183.3" y1="22.7" x2="191.4" y2="18.3" stroke-width="0.50"/><line x1="191.4" y1="18.3" x2="196.8" y2="14.7" stroke-width="0.50"/><line x1="191.4" y1="18.3" x2="195.8" y2="13.6" stroke-width="0.50"/><line x1="183.3" y1="22.7" x2="191.6" y2="16.6" stroke-width="0.50"/><line x1="191.6" y1="16.6" x2="197.7" y2="12.8" stroke-width="0.50"/><line x1="191.6" y1="16.6" x2="197.7" y2="12.1" stroke-width="0.50"/><line x1="162.0" y1="53.0" x2="153.7" y2="43.1" stroke-width="1.00"/><line x1="153.7" y1="43.1" x2="148.9" y2="35.4" stroke-width="0.70"/><line x1="148.9" y1="35.4" x2="145.8" y2="28.6" stroke-width="0.50"/><line x1="145.8" y1="28.6" x2="142.6" y2="23.6" stroke-width="0.50"/><line x1="145.8" y1="28.6" x2="142.7" y2="23.4" stroke-width="0.50"/><line x1="145.8" y1="28.6" x2="144.7" y2="23.4" stroke-width="0.50"/><line x1="148.9" y1="35.4" x2="144.3" y2="29.3" stroke-width="0.50"/><line x1="144.3" y1="29.3" x2="140.9" y2="23.9" stroke-width="0.50"/><line x1="144.3" y1="29.3" x2="139.8" y2="24.9" stroke-width="0.50"/><line x1="153.7" y1="43.1" x2="145.6" y2="38.0" stroke-width="0.70"/><line x1="145.6" y1="38.0" x2="139.4" y2="34.9" stroke-width="0.50"/><line x1="139.4" y1="34.9" x2="135.6" y2="31.9" stroke-width="0.50"/><line x1="139.4" y1="34.9" x2="134.8" y2="32.3" stroke-width="0.50"/><line x1="145.6" y1="38.0" x2="139.9" y2="32.4" stroke-width="0.50"/><line x1="139.9" y1="32.4" x2="134.5" y2="28.9" stroke-width="0.50"/><line x1="139.9" y1="32.4" x2="134.1" y2="29.0" stroke-width="0.50"/><line x1="162.0" y1="38.4" x2="166.0" y2="29.4" stroke-width="1.00"/><line x1="166.0" y1="29.4" x2="170.7" y2="22.5" stroke-width="0.70"/><line x1="170.7" y1="22.5" x2="174.7" y2="18.1" stroke-width="0.50"/><line x1="174.7" y1="18.1" x2="177.3" y2="14.4" stroke-width="0.50"/><line x1="174.7" y1="18.1" x2="179.0" y2="15.3" stroke-width="0.50"/><line x1="170.7" y1="22.5" x2="173.0" y2="15.9" stroke-width="0.50"/><line x1="173.0" y1="15.9" x2="174.7" y2="10.5" stroke-width="0.50"/><line x1="173.0" y1="15.9" x2="175.5" y2="11.5" stroke-width="0.50"/><line x1="173.0" y1="15.9" x2="175.4" y2="10.3" stroke-width="0.50"/><line x1="170.7" y1="22.5" x2="175.8" y2="17.9" stroke-width="0.50"/><line x1="175.8" y1="17.9" x2="180.3" y2="14.9" stroke-width="0.50"/><line x1="175.8" y1="17.9" x2="180.2" y2="15.6" stroke-width="0.50"/><line x1="166.0" y1="29.4" x2="169.0" y2="23.1" stroke-width="0.70"/><line x1="169.0" y1="23.1" x2="171.6" y2="19.1" stroke-width="0.50"/><line x1="171.6" y1="19.1" x2="173.0" y2="15.6" stroke-width="0.50"/><line x1="171.6" y1="19.1" x2="173.7" y2="16.5" stroke-width="0.50"/><line x1="169.0" y1="23.1" x2="173.0" y2="18.7" stroke-width="0.50"/><line x1="173.0" y1="18.7" x2="176.1" y2="15.5" stroke-width="0.50"/><line x1="173.0" y1="18.7" x2="176.2" y2="15.5" stroke-width="0.50"/><line x1="169.0" y1="23.1" x2="171.3" y2="17.9" stroke-width="0.50"/><line x1="171.3" y1="17.9" x2="172.6" y2="13.4" stroke-width="0.50"/><line x1="171.3" y1="17.9" x2="172.2" y2="14.1" stroke-width="0.50"/><line x1="162.0" y1="102.6" x2="155.8" y2="86.0" stroke-width="1.00"/><line x1="155.8" y1="86.0" x2="149.4" y2="74.5" stroke-width="0.70"/><line x1="149.4" y1="74.5" x2="142.4" y2="67.0" stroke-width="0.50"/><line x1="142.4" y1="67.0" x2="136.2" y2="63.2" stroke-width="0.50"/><line x1="142.4" y1="67.0" x2="136.4" y2="62.4" stroke-width="0.50"/><line x1="149.4" y1="74.5" x2="142.8" y2="65.7" stroke-width="0.50"/><line x1="142.8" y1="65.7" x2="137.4" y2="58.6" stroke-width="0.50"/><line x1="142.8" y1="65.7" x2="138.8" y2="58.8" stroke-width="0.50"/><line x1="155.8" y1="86.0" x2="151.7" y2="72.2" stroke-width="0.70"/><line x1="151.7" y1="72.2" x2="150.2" y2="60.8" stroke-width="0.50"/><line x1="150.2" y1="60.8" x2="147.7" y2="52.0" stroke-width="0.50"/><line x1="150.2" y1="60.8" x2="151.8" y2="52.1" stroke-width="0.50"/><line x1="150.2" y1="60.8" x2="151.2" y2="52.9" stroke-width="0.50"/><line x1="151.7" y1="72.2" x2="150.2" y2="61.8" stroke-width="0.50"/><line x1="150.2" y1="61.8" x2="148.6" y2="53.8" stroke-width="0.50"/><line x1="150.2" y1="61.8" x2="147.9" y2="54.5" stroke-width="0.50"/><line x1="150.2" y1="61.8" x2="150.9" y2="53.5" stroke-width="0.50"/><line x1="162.0" y1="72.5" x2="166.4" y2="59.7" stroke-width="1.00"/><line x1="166.4" y1="59.7" x2="168.0" y2="49.3" stroke-width="0.70"/><line x1="168.0" y1="49.3" x2="169.2" y2="41.1" stroke-width="0.50"/><line x1="169.2" y1="41.1" x2="171.1" y2="35.5" stroke-width="0.50"/><line x1="169.2" y1="41.1" x2="169.9" y2="35.0" stroke-width="0.50"/><line x1="169.2" y1="41.1" x2="170.9" y2="34.8" stroke-width="0.50"/><line x1="168.0" y1="49.3" x2="167.9" y2="40.8" stroke-width="0.50"/><line x1="167.9" y1="40.8" x2="166.0" y2="34.9" stroke-width="0.50"/><line x1="167.9" y1="40.8" x2="167.4" y2="34.7" stroke-width="0.50"/><line x1="166.4" y1="59.7" x2="171.4" y2="49.2" stroke-width="0.70"/><line x1="171.4" y1="49.2" x2="176.2" y2="40.7" stroke-width="0.50"/><line x1="176.2" y1="40.7" x2="180.7" y2="33.9" stroke-width="0.50"/><line x1="176.2" y1="40.7" x2="178.0" y2="33.7" stroke-width="0.50"/><line x1="171.4" y1="49.2" x2="174.4" y2="41.1" stroke-width="0.50"/><line x1="174.4" y1="41.1" x2="175.0" y2="34.2" stroke-width="0.50"/><line x1="174.4" y1="41.1" x2="178.2" y2="36.1" stroke-width="0.50"/><line x1="171.4" y1="49.2" x2="173.4" y2="40.8" stroke-width="0.50"/><line x1="173.4" y1="40.8" x2="173.9" y2="33.7" stroke-width="0.50"/><line x1="173.4" y1="40.8" x2="173.7" y2="34.0" stroke-width="0.50"/><line x1="173.4" y1="40.8" x2="176.0" y2="34.4" stroke-width="0.50"/><line x1="166.4" y1="59.7" x2="167.2" y2="48.2" stroke-width="0.70"/><line x1="167.2" y1="48.2" x2="167.8" y2="38.5" stroke-width="0.50"/><line x1="167.8" y1="38.5" x2="166.7" y2="31.4" stroke-width="0.50"/><line x1="167.8" y1="38.5" x2="169.7" y2="31.4" stroke-width="0.50"/><line x1="167.2" y1="48.2" x2="165.5" y2="40.1" stroke-width="0.50"/><line x1="165.5" y1="40.1" x2="164.4" y2="33.7" stroke-width="0.50"/><line x1="165.5" y1="40.1" x2="164.0" y2="34.2" stroke-width="0.50"/><line x1="167.2" y1="48.2" x2="170.3" y2="40.1" stroke-width="0.50"/><line x1="170.3" y1="40.1" x2="171.4" y2="33.6" stroke-width="0.50"/><line x1="170.3" y1="40.1" x2="171.2" y2="34.2" stroke-width="0.50"/><line x1="162.0" y1="41.4" x2="158.2" y2="30.5" stroke-width="1.00"/><line x1="158.2" y1="30.5" x2="155.4" y2="21.5" stroke-width="0.70"/><line x1="155.4" y1="21.5" x2="151.3" y2="15.0" stroke-width="0.50"/><line x1="151.3" y1="15.0" x2="148.7" y2="8.9" stroke-width="0.50"/><line x1="151.3" y1="15.0" x2="148.4" y2="10.2" stroke-width="0.50"/><line x1="155.4" y1="21.5" x2="152.6" y2="14.7" stroke-width="0.50"/><line x1="152.6" y1="14.7" x2="149.4" y2="10.3" stroke-width="0.50"/><line x1="152.6" y1="14.7" x2="150.9" y2="8.9" stroke-width="0.50"/><line x1="158.2" y1="30.5" x2="156.6" y2="21.0" stroke-width="0.70"/><line x1="156.6" y1="21.0" x2="154.9" y2="13.5" stroke-width="0.50"/><line x1="154.9" y1="13.5" x2="154.7" y2="7.3" stroke-width="0.50"/><line x1="154.9" y1="13.5" x2="152.8" y2="8.0" stroke-width="0.50"/><line x1="156.6" y1="21.0" x2="154.2" y2="13.4" stroke-width="0.50"/><line x1="154.2" y1="13.4" x2="153.3" y2="6.7" stroke-width="0.50"/><line x1="154.2" y1="13.4" x2="153.4" y2="7.5" stroke-width="0.50"/><line x1="156.6" y1="21.0" x2="154.5" y2="13.1" stroke-width="0.50"/><line x1="154.5" y1="13.1" x2="151.7" y2="7.6" stroke-width="0.50"/><line x1="154.5" y1="13.1" x2="153.9" y2="6.4" stroke-width="0.50"/><line x1="154.5" y1="13.1" x2="152.0" y2="7.3" stroke-width="0.50"/><line x1="162.0" y1="107.9" x2="167.1" y2="92.3" stroke-width="1.00"/><line x1="167.1" y1="92.3" x2="174.7" y2="80.5" stroke-width="0.70"/><line x1="174.7" y1="80.5" x2="182.9" y2="71.8" stroke-width="0.50"/><line x1="182.9" y1="71.8" x2="187.7" y2="64.5" stroke-width="0.50"/><line x1="182.9" y1="71.8" x2="189.7" y2="66.8" stroke-width="0.50"/><line x1="174.7" y1="80.5" x2="181.4" y2="70.7" stroke-width="0.50"/><line x1="181.4" y1="70.7" x2="187.2" y2="63.6" stroke-width="0.50"/><line x1="181.4" y1="70.7" x2="188.6" y2="65.0" stroke-width="0.50"/><line x1="167.1" y1="92.3" x2="171.4" y2="79.1" stroke-width="0.70"/><line x1="171.4" y1="79.1" x2="172.4" y2="67.7" stroke-width="0.50"/><line x1="172.4" y1="67.7" x2="176.0" y2="58.6" stroke-width="0.50"/><line x1="172.4" y1="67.7" x2="173.1" y2="59.1" stroke-width="0.50"/><line x1="171.4" y1="79.1" x2="172.8" y2="69.1" stroke-width="0.50"/><line x1="172.8" y1="69.1" x2="172.2" y2="60.9" stroke-width="0.50"/><line x1="172.8" y1="69.1" x2="171.7" y2="61.2" stroke-width="0.50"/><line x1="171.4" y1="79.1" x2="175.5" y2="68.6" stroke-width="0.50"/><line x1="175.5" y1="68.6" x2="180.4" y2="62.0" stroke-width="0.50"/><line x1="175.5" y1="68.6" x2="176.5" y2="59.8" stroke-width="0.50"/><line x1="162.0" y1="34.3" x2="150.5" y2="24.5" stroke-width="1.00"/><line x1="150.5" y1="24.5" x2="143.8" y2="15.8" stroke-width="0.70"/><line x1="143.8" y1="15.8" x2="138.4" y2="9.8" stroke-width="0.50"/><line x1="138.4" y1="9.8" x2="134.1" y2="5.0" stroke-width="0.50"/><line x1="138.4" y1="9.8" x2="133.0" y2="6.5" stroke-width="0.50"/><line x1="143.8" y1="15.8" x2="136.6" y2="9.9" stroke-width="0.50"/><line x1="136.6" y1="9.9" x2="131.5" y2="5.3" stroke-width="0.50"/><line x1="136.6" y1="9.9" x2="131.4" y2="4.5" stroke-width="0.50"/><line x1="150.5" y1="24.5" x2="143.7" y2="14.7" stroke-width="0.70"/><line x1="143.7" y1="14.7" x2="139.6" y2="7.7" stroke-width="0.50"/><line x1="139.6" y1="7.7" x2="135.7" y2="2.4" stroke-width="0.50"/><line x1="139.6" y1="7.7" x2="135.2" y2="3.0" stroke-width="0.50"/><line x1="139.6" y1="7.7" x2="135.9" y2="3.5" stroke-width="0.50"/><line x1="143.7" y1="14.7" x2="137.0" y2="7.6" stroke-width="0.50"/><line x1="137.0" y1="7.6" x2="131.5" y2="1.6" stroke-width="0.50"/><line x1="137.0" y1="7.6" x2="133.8" y2="1.1" stroke-width="0.50"/><line x1="162.0" y1="79.4" x2="175.3" y2="64.9" stroke-width="1.00"/><line x1="175.3" y1="64.9" x2="185.9" y2="52.8" stroke-width="0.70"/><line x1="185.9" y1="52.8" x2="194.3" y2="43.1" stroke-width="0.50"/><line x1="194.3" y1="43.1" x2="199.7" y2="34.4" stroke-width="0.50"/><line x1="194.3" y1="43.1" x2="199.0" y2="35.3" stroke-width="0.50"/><line x1="194.3" y1="43.1" x2="200.9" y2="35.3" stroke-width="0.50"/><line x1="185.9" y1="52.8" x2="195.9" y2="43.4" stroke-width="0.50"/><line x1="195.9" y1="43.4" x2="203.7" y2="36.3" stroke-width="0.50"/><line x1="195.9" y1="43.4" x2="203.0" y2="34.2" stroke-width="0.50"/><line x1="175.3" y1="64.9" x2="182.3" y2="52.5" stroke-width="0.70"/><line x1="182.3" y1="52.5" x2="188.8" y2="43.1" stroke-width="0.50"/><line x1="188.8" y1="43.1" x2="195.7" y2="37.3" stroke-width="0.50"/><line x1="188.8" y1="43.1" x2="192.7" y2="34.2" stroke-width="0.50"/><line x1="182.3" y1="52.5" x2="189.4" y2="44.7" stroke-width="0.50"/><line x1="189.4" y1="44.7" x2="193.2" y2="37.9" stroke-width="0.50"/><line x1="189.4" y1="44.7" x2="195.1" y2="37.8" stroke-width="0.50"/><line x1="189.4" y1="44.7" x2="193.9" y2="38.2" stroke-width="0.50"/><line x1="162.0" y1="27.7" x2="156.0" y2="21.3" stroke-width="1.00"/><line x1="156.0" y1="21.3" x2="150.8" y2="16.9" stroke-width="0.70"/><line x1="150.8" y1="16.9" x2="146.3" y2="14.1" stroke-width="0.50"/><line x1="146.3" y1="14.1" x2="143.0" y2="11.8" stroke-width="0.50"/><line x1="146.3" y1="14.1" x2="143.2" y2="11.7" stroke-width="0.50"/><line x1="150.8" y1="16.9" x2="146.7" y2="14.7" stroke-width="0.50"/><line x1="146.7" y1="14.7" x2="143.4" y2="12.7" stroke-width="0.50"/><line x1="146.7" y1="14.7" x2="143.1" y2="13.7" stroke-width="0.50"/><line x1="150.8" y1="16.9" x2="146.7" y2="13.6" stroke-width="0.50"/><line x1="146.7" y1="13.6" x2="143.6" y2="11.0" stroke-width="0.50"/><line x1="146.7" y1="13.6" x2="144.0" y2="11.0" stroke-width="0.50"/><line x1="146.7" y1="13.6" x2="144.2" y2="10.3" stroke-width="0.50"/><line x1="156.0" y1="21.3" x2="150.1" y2="18.0" stroke-width="0.70"/><line x1="150.1" y1="18.0" x2="146.7" y2="14.3" stroke-width="0.50"/><line x1="146.7" y1="14.3" x2="145.0" y2="11.0" stroke-width="0.50"/><line x1="146.7" y1="14.3" x2="143.5" y2="12.4" stroke-width="0.50"/><line x1="150.1" y1="18.0" x2="145.4" y2="15.4" stroke-width="0.50"/><line x1="145.4" y1="15.4" x2="141.4" y2="13.7" stroke-width="0.50"/><line x1="145.4" y1="15.4" x2="141.9" y2="13.9" stroke-width="0.50"/><line x1="150.1" y1="18.0" x2="146.1" y2="14.9" stroke-width="0.50"/><line x1="146.1" y1="14.9" x2="142.7" y2="12.4" stroke-width="0.50"/><line x1="146.1" y1="14.9" x2="142.6" y2="12.2" stroke-width="0.50"/><line x1="156.0" y1="21.3" x2="152.1" y2="15.3" stroke-width="0.70"/><line x1="152.1" y1="15.3" x2="149.6" y2="10.7" stroke-width="0.50"/><line x1="149.6" y1="10.7" x2="148.5" y2="6.4" stroke-width="0.50"/><line x1="149.6" y1="10.7" x2="148.2" y2="6.5" stroke-width="0.50"/><line x1="152.1" y1="15.3" x2="149.0" y2="10.1" stroke-width="0.50"/><line x1="149.0" y1="10.1" x2="148.1" y2="6.0" stroke-width="0.50"/><line x1="149.0" y1="10.1" x2="146.3" y2="6.2" stroke-width="0.50"/><line x1="162.0" y1="92.7" x2="173.6" y2="74.9" stroke-width="1.00"/><line x1="173.6" y1="74.9" x2="184.8" y2="61.4" stroke-width="0.70"/><line x1="184.8" y1="61.4" x2="190.1" y2="48.5" stroke-width="0.50"/><line x1="190.1" y1="48.5" x2="192.7" y2="39.1" stroke-width="0.50"/><line x1="190.1" y1="48.5" x2="195.3" y2="40.1" stroke-width="0.50"/><line x1="184.8" y1="61.4" x2="193.7" y2="53.2" stroke-width="0.50"/><line x1="193.7" y1="53.2" x2="202.1" y2="47.3" stroke-width="0.50"/><line x1="193.7" y1="53.2" x2="198.8" y2="45.1" stroke-width="0.50"/><line x1="173.6" y1="74.9" x2="181.9" y2="60.3" stroke-width="0.70"/><line x1="181.9" y1="60.3" x2="184.4" y2="48.8" stroke-width="0.50"/><line x1="184.4" y1="48.8" x2="186.3" y2="39.8" stroke-width="0.50"/><line x1="184.4" y1="48.8" x2="184.2" y2="39.4" stroke-width="0.50"/><line x1="184.4" y1="48.8" x2="188.1" y2="41.4" stroke-width="0.50"/><line x1="181.9" y1="60.3" x2="190.9" y2="49.5" stroke-width="0.50"/><line x1="190.9" y1="49.5" x2="198.3" y2="41.2" stroke-width="0.50"/><line x1="190.9" y1="49.5" x2="197.3" y2="39.9" stroke-width="0.50"/><line x1="190.9" y1="49.5" x2="196.9" y2="40.1" stroke-width="0.50"/><line x1="162.0" y1="72.3" x2="147.7" y2="60.2" stroke-width="1.00"/><line x1="147.7" y1="60.2" x2="135.5" y2="53.5" stroke-width="0.70"/><line x1="135.5" y1="53.5" x2="127.4" y2="47.4" stroke-width="0.50"/><line x1="127.4" y1="47.4" x2="121.3" y2="43.2" stroke-width="0.50"/><line x1="127.4" y1="47.4" x2="121.7" y2="42.3" stroke-width="0.50"/><line x1="135.5" y1="53.5" x2="128.7" y2="46.4" stroke-width="0.50"/><line x1="128.7" y1="46.4" x2="124.0" y2="40.6" stroke-width="0.50"/><line x1="128.7" y1="46.4" x2="122.0" y2="42.4" stroke-width="0.50"/><line x1="128.7" y1="46.4" x2="124.8" y2="40.3" stroke-width="0.50"/><line x1="147.7" y1="60.2" x2="138.0" y2="49.4" stroke-width="0.70"/><line x1="138.0" y1="49.4" x2="132.9" y2="40.0" stroke-width="0.50"/><line x1="132.9" y1="40.0" x2="129.8" y2="31.6" stroke-width="0.50"/><line x1="132.9" y1="40.0" x2="130.6" y2="32.4" stroke-width="0.50"/><line x1="138.0" y1="49.4" x2="133.0" y2="40.4" stroke-width="0.50"/><line x1="133.0" y1="40.4" x2="128.4" y2="33.1" stroke-width="0.50"/><line x1="133.0" y1="40.4" x2="130.0" y2="32.8" stroke-width="0.50"/><line x1="162.0" y1="91.9" x2="169.8" y2="76.7" stroke-width="1.00"/><line x1="169.8" y1="76.7" x2="174.3" y2="65.3" stroke-width="0.70"/><line x1="174.3" y1="65.3" x2="175.8" y2="55.1" stroke-width="0.50"/><line x1="175.8" y1="55.1" x2="176.7" y2="48.0" stroke-width="0.50"/><line x1="175.8" y1="55.1" x2="176.8" y2="47.1" stroke-width="0.50"/><line x1="174.3" y1="65.3" x2="176.0" y2="55.0" stroke-width="0.50"/><line x1="176.0" y1="55.0" x2="176.8" y2="47.4" stroke-width="0.50"/><line x1="176.0" y1="55.0" x2="176.5" y2="47.4" stroke-width="0.50"/><line x1="174.3" y1="65.3" x2="179.1" y2="58.4" stroke-width="0.50"/><line x1="179.1" y1="58.4" x2="183.1" y2="53.3" stroke-width="0.50"/><line x1="179.1" y1="58.4" x2="182.2" y2="52.7" stroke-width="0.50"/><line x1="169.8" y1="76.7" x2="172.3" y2="64.4" stroke-width="0.70"/><line x1="172.3" y1="64.4" x2="175.7" y2="55.5" stroke-width="0.50"/><line x1="175.7" y1="55.5" x2="178.8" y2="49.3" stroke-width="0.50"/><line x1="175.7" y1="55.5" x2="178.3" y2="49.3" stroke-width="0.50"/><line x1="172.3" y1="64.4" x2="174.9" y2="55.0" stroke-width="0.50"/><line x1="174.9" y1="55.0" x2="178.8" y2="48.0" stroke-width="0.50"/><line x1="174.9" y1="55.0" x2="178.8" y2="49.1" stroke-width="0.50"/><line x1="162.0" y1="107.1" x2="153.1" y2="92.0" stroke-width="1.00"/><line x1="153.1" y1="92.0" x2="149.1" y2="77.5" stroke-width="0.70"/><line x1="149.1" y1="77.5" x2="145.1" y2="67.8" stroke-width="0.50"/><line x1="145.1" y1="67.8" x2="142.7" y2="59.7" stroke-width="0.50"/><line x1="145.1" y1="67.8" x2="140.6" y2="62.2" stroke-width="0.50"/><line x1="149.1" y1="77.5" x2="149.6" y2="66.4" stroke-width="0.50"/><line x1="149.6" y1="66.4" x2="149.7" y2="58.7" stroke-width="0.50"/><line x1="149.6" y1="66.4" x2="151.6" y2="58.1" stroke-width="0.50"/><line x1="149.1" y1="77.5" x2="146.6" y2="65.1" stroke-width="0.50"/><line x1="146.6" y1="65.1" x2="142.7" y2="55.4" stroke-width="0.50"/><line x1="146.6" y1="65.1" x2="145.3" y2="55.6" stroke-width="0.50"/><line x1="153.1" y1="92.0" x2="144.9" y2="80.7" stroke-width="0.70"/><line x1="144.9" y1="80.7" x2="141.0" y2="69.6" stroke-width="0.50"/><line x1="141.0" y1="69.6" x2="136.6" y2="62.8" stroke-width="0.50"/><line x1="141.0" y1="69.6" x2="139.8" y2="61.2" stroke-width="0.50"/><line x1="141.0" y1="69.6" x2="138.1" y2="61.1" stroke-width="0.50"/><line x1="144.9" y1="80.7" x2="141.5" y2="70.7" stroke-width="0.50"/><line x1="141.5" y1="70.7" x2="137.2" y2="62.9" stroke-width="0.50"/><line x1="141.5" y1="70.7" x2="140.6" y2="63.3" stroke-width="0.50"/><line x1="144.9" y1="80.7" x2="141.5" y2="70.8" stroke-width="0.50"/><line x1="141.5" y1="70.8" x2="139.0" y2="62.5" stroke-width="0.50"/><line x1="141.5" y1="70.8" x2="139.2" y2="64.1" stroke-width="0.50"/><line x1="141.5" y1="70.8" x2="139.0" y2="62.6" stroke-width="0.50"/></g>
 <g stroke="#7a6a60" opacity="0.75" stroke-linecap="round" fill="none"><line x1="71.4" y1="202.0" x2="72.4" y2="188.3" stroke-width="2.40"/><line x1="72.4" y1="188.3" x2="72.4" y2="174.7" stroke-width="2.30"/><line x1="72.4" y1="174.7" x2="72.8" y2="161.0" stroke-width="2.20"/><line x1="72.8" y1="161.0" x2="71.2" y2="147.3" stroke-width="2.10"/><line x1="71.2" y1="147.3" x2="71.4" y2="133.7" stroke-width="2.00"/><line x1="71.4" y1="133.7" x2="71.2" y2="120.0" stroke-width="1.90"/><line x1="71.2" y1="120.0" x2="71.3" y2="106.3" stroke-width="1.80"/><line x1="71.3" y1="106.3" x2="72.6" y2="92.7" stroke-width="1.70"/><line x1="72.6" y1="92.7" x2="71.1" y2="79.0" stroke-width="1.60"/><line x1="71.1" y1="79.0" x2="72.1" y2="65.3" stroke-width="1.50"/><line x1="72.1" y1="65.3" x2="71.3" y2="51.7" stroke-width="1.40"/><line x1="71.3" y1="51.7" x2="71.5" y2="38.0" stroke-width="1.30"/><line x1="72.0" y1="72.0" x2="78.9" y2="64.9" stroke-width="1.00"/><line x1="78.9" y1="64.9" x2="83.1" y2="59.3" stroke-width="0.70"/><line x1="83.1" y1="59.3" x2="87.3" y2="55.4" stroke-width="0.50"/><line x1="87.3" y1="55.4" x2="91.4" y2="52.6" stroke-width="0.50"/><line x1="87.3" y1="55.4" x2="90.9" y2="53.2" stroke-width="0.50"/><line x1="87.3" y1="55.4" x2="91.2" y2="53.2" stroke-width="0.50"/><line x1="83.1" y1="59.3" x2="87.0" y2="55.5" stroke-width="0.50"/><line x1="87.0" y1="55.5" x2="89.7" y2="52.3" stroke-width="0.50"/><line x1="87.0" y1="55.5" x2="89.4" y2="52.5" stroke-width="0.50"/><line x1="83.1" y1="59.3" x2="87.3" y2="55.4" stroke-width="0.50"/><line x1="87.3" y1="55.4" x2="91.0" y2="52.8" stroke-width="0.50"/><line x1="87.3" y1="55.4" x2="90.7" y2="53.2" stroke-width="0.50"/><line x1="87.3" y1="55.4" x2="90.9" y2="52.8" stroke-width="0.50"/><line x1="78.9" y1="64.9" x2="82.8" y2="59.0" stroke-width="0.70"/><line x1="82.8" y1="59.0" x2="84.9" y2="54.0" stroke-width="0.50"/><line x1="84.9" y1="54.0" x2="86.3" y2="50.4" stroke-width="0.50"/><line x1="84.9" y1="54.0" x2="86.5" y2="50.4" stroke-width="0.50"/><line x1="82.8" y1="59.0" x2="84.8" y2="54.3" stroke-width="0.50"/><line x1="84.8" y1="54.3" x2="85.3" y2="50.3" stroke-width="0.50"/><line x1="84.8" y1="54.3" x2="87.2" y2="51.4" stroke-width="0.50"/><line x1="72.0" y1="92.2" x2="66.1" y2="86.9" stroke-width="1.00"/><line x1="66.1" y1="86.9" x2="62.2" y2="81.6" stroke-width="0.70"/><line x1="62.2" y1="81.6" x2="58.5" y2="78.3" stroke-width="0.50"/><line x1="58.5" y1="78.3" x2="56.1" y2="75.0" stroke-width="0.50"/><line x1="58.5" y1="78.3" x2="54.9" y2="76.2" stroke-width="0.50"/><line x1="58.5" y1="78.3" x2="55.2" y2="75.9" stroke-width="0.50"/><line x1="62.2" y1="81.6" x2="57.9" y2="78.0" stroke-width="0.50"/><line x1="57.9" y1="78.0" x2="55.2" y2="75.0" stroke-width="0.50"/><line x1="57.9" y1="78.0" x2="54.8" y2="74.9" stroke-width="0.50"/><line x1="66.1" y1="86.9" x2="62.0" y2="82.7" stroke-width="0.70"/><line x1="62.0" y1="82.7" x2="58.7" y2="79.9" stroke-width="0.50"/><line x1="58.7" y1="79.9" x2="56.6" y2="77.7" stroke-width="0.50"/><line x1="58.7" y1="79.9" x2="56.1" y2="78.4" stroke-width="0.50"/><line x1="62.0" y1="82.7" x2="59.1" y2="79.1" stroke-width="0.50"/><line x1="59.1" y1="79.1" x2="56.2" y2="77.1" stroke-width="0.50"/><line x1="59.1" y1="79.1" x2="56.8" y2="76.8" stroke-width="0.50"/><line x1="62.0" y1="82.7" x2="57.5" y2="80.3" stroke-width="0.50"/><line x1="57.5" y1="80.3" x2="54.1" y2="79.0" stroke-width="0.50"/><line x1="57.5" y1="80.3" x2="54.5" y2="78.5" stroke-width="0.50"/><line x1="72.0" y1="74.7" x2="77.4" y2="64.4" stroke-width="1.00"/><line x1="77.4" y1="64.4" x2="80.8" y2="56.1" stroke-width="0.70"/><line x1="80.8" y1="56.1" x2="83.4" y2="49.8" stroke-width="0.50"/><line x1="83.4" y1="49.8" x2="84.6" y2="45.2" stroke-width="0.50"/><line x1="83.4" y1="49.8" x2="85.6" y2="44.4" stroke-width="0.50"/><line x1="80.8" y1="56.1" x2="84.1" y2="50.5" stroke-width="0.50"/><line x1="84.1" y1="50.5" x2="87.3" y2="47.0" stroke-width="0.50"/><line x1="84.1" y1="50.5" x2="86.8" y2="46.4" stroke-width="0.50"/><line x1="80.8" y1="56.1" x2="82.2" y2="49.7" stroke-width="0.50"/><line x1="82.2" y1="49.7" x2="82.8" y2="45.2" stroke-width="0.50"/><line x1="82.2" y1="49.7" x2="82.9" y2="45.2" stroke-width="0.50"/><line x1="77.4" y1="64.4" x2="83.0" y2="57.1" stroke-width="0.70"/><line x1="83.0" y1="57.1" x2="87.8" y2="52.6" stroke-width="0.50"/><line x1="87.8" y1="52.6" x2="91.5" y2="49.4" stroke-width="0.50"/><line x1="87.8" y1="52.6" x2="90.9" y2="48.8" stroke-width="0.50"/><line x1="83.0" y1="57.1" x2="86.1" y2="50.1" stroke-width="0.50"/><line x1="86.1" y1="50.1" x2="89.3" y2="45.6" stroke-width="0.50"/><line x1="86.1" y1="50.1" x2="87.8" y2="44.6" stroke-width="0.50"/><line x1="72.0" y1="44.0" x2="70.1" y2="38.7" stroke-width="1.00"/><line x1="70.1" y1="38.7" x2="69.6" y2="33.8" stroke-width="0.70"/><line x1="69.6" y1="33.8" x2="69.3" y2="30.4" stroke-width="0.50"/><line x1="69.3" y1="30.4" x2="68.8" y2="27.6" stroke-width="0.50"/><line x1="69.3" y1="30.4" x2="69.2" y2="28.0" stroke-width="0.50"/><line x1="69.3" y1="30.4" x2="68.4" y2="28.1" stroke-width="0.50"/><line x1="69.6" y1="33.8" x2="70.0" y2="30.4" stroke-width="0.50"/><line x1="70.0" y1="30.4" x2="70.2" y2="27.8" stroke-width="0.50"/><line x1="70.0" y1="30.4" x2="70.8" y2="28.1" stroke-width="0.50"/><line x1="70.1" y1="38.7" x2="69.2" y2="34.2" stroke-width="0.70"/><line x1="69.2" y1="34.2" x2="68.5" y2="30.4" stroke-width="0.50"/><line x1="68.5" y1="30.4" x2="68.0" y2="27.4" stroke-width="0.50"/><line x1="68.5" y1="30.4" x2="68.5" y2="27.2" stroke-width="0.50"/><line x1="69.2" y1="34.2" x2="67.8" y2="31.3" stroke-width="0.50"/><line x1="67.8" y1="31.3" x2="67.2" y2="28.9" stroke-width="0.50"/><line x1="67.8" y1="31.3" x2="66.3" y2="29.0" stroke-width="0.50"/><line x1="69.2" y1="34.2" x2="68.2" y2="31.2" stroke-width="0.50"/><line x1="68.2" y1="31.2" x2="66.7" y2="29.2" stroke-width="0.50"/><line x1="68.2" y1="31.2" x2="66.8" y2="29.1" stroke-width="0.50"/><line x1="72.0" y1="102.6" x2="83.5" y2="92.9" stroke-width="1.00"/><line x1="83.5" y1="92.9" x2="93.7" y2="85.6" stroke-width="0.70"/><line x1="93.7" y1="85.6" x2="101.2" y2="78.6" stroke-width="0.50"/><line x1="101.2" y1="78.6" x2="106.8" y2="71.9" stroke-width="0.50"/><line x1="101.2" y1="78.6" x2="106.5" y2="73.4" stroke-width="0.50"/><line x1="93.7" y1="85.6" x2="102.3" y2="81.5" stroke-width="0.50"/><line x1="102.3" y1="81.5" x2="107.4" y2="76.9" stroke-width="0.50"/><line x1="102.3" y1="81.5" x2="109.2" y2="77.3" stroke-width="0.50"/><line x1="93.7" y1="85.6" x2="101.1" y2="78.3" stroke-width="0.50"/><line x1="101.1" y1="78.3" x2="107.1" y2="71.7" stroke-width="0.50"/><line x1="101.1" y1="78.3" x2="107.7" y2="73.7" stroke-width="0.50"/><line x1="101.1" y1="78.3" x2="105.9" y2="71.9" stroke-width="0.50"/><line x1="83.5" y1="92.9" x2="94.1" y2="87.9" stroke-width="0.70"/><line x1="94.1" y1="87.9" x2="101.9" y2="83.4" stroke-width="0.50"/><line x1="101.9" y1="83.4" x2="107.3" y2="80.5" stroke-width="0.50"/><line x1="101.9" y1="83.4" x2="107.9" y2="81.4" stroke-width="0.50"/><line x1="94.1" y1="87.9" x2="101.2" y2="82.0" stroke-width="0.50"/><line x1="101.2" y1="82.0" x2="107.5" y2="78.9" stroke-width="0.50"/><line x1="101.2" y1="82.0" x2="107.1" y2="77.2" stroke-width="0.50"/><line x1="72.0" y1="56.8" x2="66.5" y2="50.4" stroke-width="1.00"/><line x1="66.5" y1="50.4" x2="64.1" y2="45.2" stroke-width="0.70"/><line x1="64.1" y1="45.2" x2="61.2" y2="41.5" stroke-width="0.50"/><line x1="61.2" y1="41.5" x2="58.3" y2="39.3" stroke-width="0.50"/><line x1="61.2" y1="41.5" x2="59.9" y2="38.2" stroke-width="0.50"/><line x1="64.1" y1="45.2" x2="62.2" y2="41.1" stroke-width="0.50"/><line x1="62.2" y1="41.1" x2="60.9" y2="38.3" stroke-width="0.50"/><line x1="62.2" y1="41.1" x2="60.5" y2="37.8" stroke-width="0.50"/><line x1="64.1" y1="45.2" x2="62.0" y2="41.7" stroke-width="0.50"/><line x1="62.0" y1="41.7" x2="60.8" y2="38.8" stroke-width="0.50"/><line x1="62.0" y1="41.7" x2="61.1" y2="38.4" stroke-width="0.50"/><line x1="66.5" y1="50.4" x2="60.7" y2="46.4" stroke-width="0.70"/><line x1="60.7" y1="46.4" x2="56.6" y2="42.2" stroke-width="0.50"/><line x1="56.6" y1="42.2" x2="53.8" y2="38.4" stroke-width="0.50"/><line x1="56.6" y1="42.2" x2="53.8" y2="39.0" stroke-width="0.50"/><line x1="60.7" y1="46.4" x2="55.3" y2="44.4" stroke-width="0.50"/><line x1="55.3" y1="44.4" x2="50.8" y2="43.9" stroke-width="0.50"/><line x1="55.3" y1="44.4" x2="51.3" y2="42.5" stroke-width="0.50"/><line x1="60.7" y1="46.4" x2="56.4" y2="42.3" stroke-width="0.50"/><line x1="56.4" y1="42.3" x2="53.9" y2="38.5" stroke-width="0.50"/><line x1="56.4" y1="42.3" x2="53.4" y2="39.0" stroke-width="0.50"/><line x1="72.0" y1="107.3" x2="80.6" y2="92.7" stroke-width="1.00"/><line x1="80.6" y1="92.7" x2="89.1" y2="81.3" stroke-width="0.70"/><line x1="89.1" y1="81.3" x2="94.4" y2="72.9" stroke-width="0.50"/><line x1="94.4" y1="72.9" x2="98.4" y2="65.7" stroke-width="0.50"/><line x1="94.4" y1="72.9" x2="100.2" y2="66.6" stroke-width="0.50"/><line x1="89.1" y1="81.3" x2="95.3" y2="72.4" stroke-width="0.50"/><line x1="95.3" y1="72.4" x2="100.5" y2="67.1" stroke-width="0.50"/><line x1="95.3" y1="72.4" x2="98.5" y2="65.5" stroke-width="0.50"/><line x1="80.6" y1="92.7" x2="85.7" y2="81.4" stroke-width="0.70"/><line x1="85.7" y1="81.4" x2="88.2" y2="71.2" stroke-width="0.50"/><line x1="88.2" y1="71.2" x2="88.7" y2="62.2" stroke-width="0.50"/><line x1="88.2" y1="71.2" x2="88.1" y2="63.8" stroke-width="0.50"/><line x1="85.7" y1="81.4" x2="87.3" y2="73.0" stroke-width="0.50"/><line x1="87.3" y1="73.0" x2="87.4" y2="66.9" stroke-width="0.50"/><line x1="87.3" y1="73.0" x2="86.5" y2="66.1" stroke-width="0.50"/><line x1="85.7" y1="81.4" x2="86.9" y2="72.5" stroke-width="0.50"/><line x1="86.9" y1="72.5" x2="89.6" y2="65.9" stroke-width="0.50"/><line x1="86.9" y1="72.5" x2="88.9" y2="65.6" stroke-width="0.50"/><line x1="72.0" y1="97.7" x2="65.5" y2="91.2" stroke-width="1.00"/><line x1="65.5" y1="91.2" x2="60.9" y2="85.8" stroke-width="0.70"/><line x1="60.9" y1="85.8" x2="58.3" y2="81.4" stroke-width="0.50"/><line x1="58.3" y1="81.4" x2="56.2" y2="78.2" stroke-width="0.50"/><line x1="58.3" y1="81.4" x2="55.9" y2="78.5" stroke-width="0.50"/><line x1="58.3" y1="81.4" x2="56.5" y2="77.9" stroke-width="0.50"/><line x1="60.9" y1="85.8" x2="58.6" y2="81.1" stroke-width="0.50"/><line x1="58.6" y1="81.1" x2="55.9" y2="77.9" stroke-width="0.50"/><line x1="58.6" y1="81.1" x2="55.9" y2="77.7" stroke-width="0.50"/><line x1="58.6" y1="81.1" x2="58.0" y2="77.3" stroke-width="0.50"/><line x1="65.5" y1="91.2" x2="61.8" y2="85.7" stroke-width="0.70"/><line x1="61.8" y1="85.7" x2="58.1" y2="82.3" stroke-width="0.50"/><line x1="58.1" y1="82.3" x2="55.5" y2="79.3" stroke-width="0.50"/><line x1="58.1" y1="82.3" x2="54.9" y2="79.7" stroke-width="0.50"/><line x1="61.8" y1="85.7" x2="58.4" y2="82.1" stroke-width="0.50"/><line x1="58.4" y1="82.1" x2="54.8" y2="80.1" stroke-width="0.50"/><line x1="58.4" y1="82.1" x2="55.5" y2="80.3" stroke-width="0.50"/><line x1="72.0" y1="97.8" x2="80.0" y2="89.4" stroke-width="1.00"/><line x1="80.0" y1="89.4" x2="84.0" y2="82.6" stroke-width="0.70"/><line x1="84.0" y1="82.6" x2="86.0" y2="77.5" stroke-width="0.50"/><line x1="86.0" y1="77.5" x2="86.3" y2="73.3" stroke-width="0.50"/><line x1="86.0" y1="77.5" x2="88.3" y2="73.6" stroke-width="0.50"/><line x1="86.0" y1="77.5" x2="86.6" y2="73.0" stroke-width="0.50"/><line x1="84.0" y1="82.6" x2="87.4" y2="77.4" stroke-width="0.50"/><line x1="87.4" y1="77.4" x2="90.8" y2="73.9" stroke-width="0.50"/><line x1="87.4" y1="77.4" x2="90.6" y2="73.9" stroke-width="0.50"/><line x1="87.4" y1="77.4" x2="90.3" y2="73.2" stroke-width="0.50"/><line x1="80.0" y1="89.4" x2="86.4" y2="83.6" stroke-width="0.70"/><line x1="86.4" y1="83.6" x2="91.9" y2="80.3" stroke-width="0.50"/><line x1="91.9" y1="80.3" x2="95.7" y2="77.1" stroke-width="0.50"/><line x1="91.9" y1="80.3" x2="96.2" y2="77.2" stroke-width="0.50"/><line x1="86.4" y1="83.6" x2="91.7" y2="79.4" stroke-width="0.50"/><line x1="91.7" y1="79.4" x2="95.6" y2="76.0" stroke-width="0.50"/><line x1="91.7" y1="79.4" x2="96.4" y2="76.7" stroke-width="0.50"/><line x1="91.7" y1="79.4" x2="96.6" y2="76.6" stroke-width="0.50"/><line x1="72.0" y1="80.9" x2="67.4" y2="74.3" stroke-width="1.00"/><line x1="67.4" y1="74.3" x2="63.7" y2="69.3" stroke-width="0.70"/><line x1="63.7" y1="69.3" x2="60.0" y2="66.5" stroke-width="0.50"/><line x1="60.0" y1="66.5" x2="56.9" y2="64.3" stroke-width="0.50"/><line x1="60.0" y1="66.5" x2="56.6" y2="65.0" stroke-width="0.50"/><line x1="60.0" y1="66.5" x2="57.0" y2="64.5" stroke-width="0.50"/><line x1="63.7" y1="69.3" x2="60.0" y2="66.5" stroke-width="0.50"/><line x1="60.0" y1="66.5" x2="57.4" y2="63.8" stroke-width="0.50"/><line x1="60.0" y1="66.5" x2="57.3" y2="64.6" stroke-width="0.50"/><line x1="60.0" y1="66.5" x2="57.4" y2="64.0" stroke-width="0.50"/><line x1="63.7" y1="69.3" x2="61.3" y2="65.0" stroke-width="0.50"/><line x1="61.3" y1="65.0" x2="60.4" y2="61.6" stroke-width="0.50"/><line x1="61.3" y1="65.0" x2="60.6" y2="61.6" stroke-width="0.50"/><line x1="67.4" y1="74.3" x2="65.5" y2="68.2" stroke-width="0.70"/><line x1="65.5" y1="68.2" x2="65.4" y2="63.3" stroke-width="0.50"/><line x1="65.4" y1="63.3" x2="64.1" y2="59.5" stroke-width="0.50"/><line x1="65.4" y1="63.3" x2="65.6" y2="59.8" stroke-width="0.50"/><line x1="65.5" y1="68.2" x2="63.0" y2="64.1" stroke-width="0.50"/><line x1="63.0" y1="64.1" x2="61.9" y2="60.6" stroke-width="0.50"/><line x1="63.0" y1="64.1" x2="60.1" y2="61.5" stroke-width="0.50"/><line x1="63.0" y1="64.1" x2="60.4" y2="61.2" stroke-width="0.50"/><line x1="72.0" y1="76.8" x2="77.6" y2="71.9" stroke-width="1.00"/><line x1="77.6" y1="71.9" x2="81.9" y2="69.1" stroke-width="0.70"/><line x1="81.9" y1="69.1" x2="85.0" y2="66.4" stroke-width="0.50"/><line x1="85.0" y1="66.4" x2="87.6" y2="64.6" stroke-width="0.50"/><line x1="85.0" y1="66.4" x2="87.4" y2="64.6" stroke-width="0.50"/><line x1="85.0" y1="66.4" x2="87.1" y2="64.5" stroke-width="0.50"/><line x1="81.9" y1="69.1" x2="85.1" y2="67.6" stroke-width="0.50"/><line x1="85.1" y1="67.6" x2="87.3" y2="65.9" stroke-width="0.50"/><line x1="85.1" y1="67.6" x2="86.9" y2="66.0" stroke-width="0.50"/><line x1="77.6" y1="71.9" x2="82.4" y2="68.3" stroke-width="0.70"/><line x1="82.4" y1="68.3" x2="86.9" y2="65.6" stroke-width="0.50"/><line x1="86.9" y1="65.6" x2="90.6" y2="63.9" stroke-width="0.50"/><line x1="86.9" y1="65.6" x2="89.6" y2="63.2" stroke-width="0.50"/><line x1="82.4" y1="68.3" x2="85.7" y2="64.9" stroke-width="0.50"/><line x1="85.7" y1="64.9" x2="88.6" y2="62.6" stroke-width="0.50"/><line x1="85.7" y1="64.9" x2="87.5" y2="61.6" stroke-width="0.50"/><line x1="85.7" y1="64.9" x2="88.0" y2="62.5" stroke-width="0.50"/><line x1="82.4" y1="68.3" x2="86.1" y2="65.9" stroke-width="0.50"/><line x1="86.1" y1="65.9" x2="89.1" y2="63.9" stroke-width="0.50"/><line x1="86.1" y1="65.9" x2="88.4" y2="63.5" stroke-width="0.50"/><line x1="77.6" y1="71.9" x2="81.4" y2="67.3" stroke-width="0.70"/><line x1="81.4" y1="67.3" x2="83.9" y2="63.1" stroke-width="0.50"/><line x1="83.9" y1="63.1" x2="85.1" y2="59.8" stroke-width="0.50"/><line x1="83.9" y1="63.1" x2="86.0" y2="59.7" stroke-width="0.50"/><line x1="81.4" y1="67.3" x2="84.2" y2="64.3" stroke-width="0.50"/><line x1="84.2" y1="64.3" x2="86.4" y2="62.1" stroke-width="0.50"/><line x1="84.2" y1="64.3" x2="85.9" y2="61.7" stroke-width="0.50"/><line x1="84.2" y1="64.3" x2="86.4" y2="62.4" stroke-width="0.50"/><line x1="81.4" y1="67.3" x2="83.6" y2="62.8" stroke-width="0.50"/><line x1="83.6" y1="62.8" x2="84.4" y2="58.6" stroke-width="0.50"/><line x1="83.6" y1="62.8" x2="84.4" y2="59.1" stroke-width="0.50"/><line x1="72.0" y1="85.2" x2="63.7" y2="74.6" stroke-width="1.00"/><line x1="63.7" y1="74.6" x2="57.0" y2="65.5" stroke-width="0.70"/><line x1="57.0" y1="65.5" x2="53.0" y2="57.8" stroke-width="0.50"/><line x1="53.0" y1="57.8" x2="51.7" y2="51.6" stroke-width="0.50"/><line x1="53.0" y1="57.8" x2="50.9" y2="51.8" stroke-width="0.50"/><line x1="53.0" y1="57.8" x2="51.3" y2="51.0" stroke-width="0.50"/><line x1="57.0" y1="65.5" x2="53.4" y2="56.7" stroke-width="0.50"/><line x1="53.4" y1="56.7" x2="52.6" y2="50.1" stroke-width="0.50"/><line x1="53.4" y1="56.7" x2="51.1" y2="50.6" stroke-width="0.50"/><line x1="63.7" y1="74.6" x2="57.4" y2="65.8" stroke-width="0.70"/><line x1="57.4" y1="65.8" x2="54.1" y2="58.3" stroke-width="0.50"/><line x1="54.1" y1="58.3" x2="50.4" y2="53.1" stroke-width="0.50"/><line x1="54.1" y1="58.3" x2="51.4" y2="53.3" stroke-width="0.50"/><line x1="57.4" y1="65.8" x2="51.2" y2="58.9" stroke-width="0.50"/><line x1="51.2" y1="58.9" x2="47.1" y2="53.2" stroke-width="0.50"/><line x1="51.2" y1="58.9" x2="45.0" y2="55.0" stroke-width="0.50"/></g>
 <line x1="267" y1="33" x2="267" y2="162" stroke-width="1.5" stroke="#b8b0b0"/>
 </g>
 <g filter="url(#b05)"><rect x="264.5" y="38" width="4.5" height="30" fill="#c8b8c0"/>
 <g stroke="#a83840" stroke-width="2"><line x1="264.5" y1="41" x2="269" y2="41"/><line x1="264.5" y1="47" x2="269" y2="47"/><line x1="264.5" y1="53" x2="269" y2="53"/><line x1="264.5" y1="59" x2="269" y2="59"/><line x1="264.5" y1="65" x2="269" y2="65"/></g>
 <rect x="264.5" y="38" width="4.5" height="10" fill="#3a3a70"/></g>
 <!-- planter right -->
 <path d="M262 160 L298 152 L298 170 L262 176Z" fill="#b09a74" filter="url(#b1)"/>
 <path d="M160 189 L200 188 L210 195 L150 196Z" fill="#4a3422" filter="url(#b1)"/>
</g>

<!-- PHOTO 2: Integrated Landscape -->
<g transform="translate(874,296)" clip-path="url(#c2)">
 <rect width="298" height="164" fill="url(#sky2)"/>
 <g filter="url(#b05)">
 <!-- trees band -->
 <path d="M38 66 L44 50 L47 44 L51 50 L56 46 L60 54 L66 50 L72 58 L78 55 L84 62 L90 56 L96 64 L102 58 L108 62 L114 54 L120 60 L126 56 L132 64 L138 66 L146 74 L154 68 L162 74 L170 70 L178 72 L186 78 L196 72 L206 74 L214 62 L222 58 L230 52 L236 58 L244 46 L250 50 L258 40 L264 48 L272 34 L280 42 L286 30 L292 36 L298 28 L298 110 L38 110Z" fill="#36522c"/>
 <g filter="url(#leaf2)"><path d="M38 66 L44 50 L47 44 L51 50 L56 46 L60 54 L66 50 L72 58 L78 55 L84 62 L90 56 L96 64 L102 58 L108 62 L114 54 L120 60 L126 56 L132 64 L138 66 L146 74 L154 68 L162 74 L170 70 L178 72 L186 78 L196 72 L206 74 L214 62 L222 58 L230 52 L236 58 L244 46 L250 50 L258 40 L264 48 L272 34 L280 42 L286 30 L292 36 L298 28 L298 110 L38 110Z" fill="#22381c"/></g>
 <g filter="url(#b1)" opacity="0.8"><ellipse cx="192" cy="52" rx="12" ry="12" fill="#b4b894"/><ellipse cx="208" cy="48" rx="11" ry="11" fill="#aab08a"/><ellipse cx="200" cy="66" rx="20" ry="14" fill="#a0a87c"/><ellipse cx="198" cy="80" rx="20" ry="8" fill="#8c9a62"/></g>
 <g stroke="#c4c6a4" opacity="0.75" stroke-linecap="round" fill="none"><line x1="199" y1="164" x2="199" y2="50" stroke-width="1.2"/><line x1="199.0" y1="53.5" x2="189.7" y2="44.8" stroke-width="0.90"/><line x1="189.7" y1="44.8" x2="185.0" y2="36.0" stroke-width="0.63"/><line x1="185.0" y1="36.0" x2="179.6" y2="31.1" stroke-width="0.50"/><line x1="185.0" y1="36.0" x2="183.7" y2="28.5" stroke-width="0.50"/><line x1="185.0" y1="36.0" x2="183.7" y2="29.5" stroke-width="0.50"/><line x1="189.7" y1="44.8" x2="183.2" y2="38.9" stroke-width="0.63"/><line x1="183.2" y1="38.9" x2="179.1" y2="34.8" stroke-width="0.50"/><line x1="183.2" y1="38.9" x2="177.8" y2="35.8" stroke-width="0.50"/><line x1="189.7" y1="44.8" x2="184.8" y2="36.1" stroke-width="0.63"/><line x1="184.8" y1="36.1" x2="182.9" y2="29.6" stroke-width="0.50"/><line x1="184.8" y1="36.1" x2="182.0" y2="29.9" stroke-width="0.50"/><line x1="199.0" y1="56.6" x2="204.4" y2="45.1" stroke-width="0.90"/><line x1="204.4" y1="45.1" x2="206.7" y2="34.9" stroke-width="0.63"/><line x1="206.7" y1="34.9" x2="207.4" y2="26.3" stroke-width="0.50"/><line x1="206.7" y1="34.9" x2="208.8" y2="27.1" stroke-width="0.50"/><line x1="206.7" y1="34.9" x2="206.9" y2="26.3" stroke-width="0.50"/><line x1="204.4" y1="45.1" x2="210.1" y2="36.3" stroke-width="0.63"/><line x1="210.1" y1="36.3" x2="213.2" y2="29.5" stroke-width="0.50"/><line x1="210.1" y1="36.3" x2="212.4" y2="29.7" stroke-width="0.50"/><line x1="210.1" y1="36.3" x2="211.9" y2="29.2" stroke-width="0.50"/><line x1="199.0" y1="59.6" x2="193.0" y2="53.8" stroke-width="0.90"/><line x1="193.0" y1="53.8" x2="188.2" y2="50.2" stroke-width="0.63"/><line x1="188.2" y1="50.2" x2="184.9" y2="47.7" stroke-width="0.50"/><line x1="188.2" y1="50.2" x2="184.5" y2="47.5" stroke-width="0.50"/><line x1="188.2" y1="50.2" x2="183.6" y2="48.7" stroke-width="0.50"/><line x1="193.0" y1="53.8" x2="186.9" y2="51.1" stroke-width="0.63"/><line x1="186.9" y1="51.1" x2="181.7" y2="50.8" stroke-width="0.50"/><line x1="186.9" y1="51.1" x2="182.2" y2="49.6" stroke-width="0.50"/><line x1="186.9" y1="51.1" x2="182.6" y2="50.9" stroke-width="0.50"/><line x1="199.0" y1="62.6" x2="205.1" y2="52.6" stroke-width="0.90"/><line x1="205.1" y1="52.6" x2="211.5" y2="45.5" stroke-width="0.63"/><line x1="211.5" y1="45.5" x2="215.5" y2="40.0" stroke-width="0.50"/><line x1="211.5" y1="45.5" x2="216.7" y2="40.0" stroke-width="0.50"/><line x1="211.5" y1="45.5" x2="214.7" y2="38.8" stroke-width="0.50"/><line x1="205.1" y1="52.6" x2="211.6" y2="45.8" stroke-width="0.63"/><line x1="211.6" y1="45.8" x2="217.2" y2="42.9" stroke-width="0.50"/><line x1="211.6" y1="45.8" x2="215.9" y2="40.1" stroke-width="0.50"/><line x1="199.0" y1="65.7" x2="191.7" y2="60.9" stroke-width="0.90"/><line x1="191.7" y1="60.9" x2="186.6" y2="57.4" stroke-width="0.63"/><line x1="186.6" y1="57.4" x2="182.8" y2="55.9" stroke-width="0.50"/><line x1="186.6" y1="57.4" x2="182.1" y2="55.8" stroke-width="0.50"/><line x1="191.7" y1="60.9" x2="188.1" y2="56.1" stroke-width="0.63"/><line x1="188.1" y1="56.1" x2="186.9" y2="51.9" stroke-width="0.50"/><line x1="188.1" y1="56.1" x2="185.5" y2="53.0" stroke-width="0.50"/><line x1="191.7" y1="60.9" x2="186.1" y2="56.8" stroke-width="0.63"/><line x1="186.1" y1="56.8" x2="182.2" y2="54.2" stroke-width="0.50"/><line x1="186.1" y1="56.8" x2="183.4" y2="53.0" stroke-width="0.50"/><line x1="199.0" y1="68.7" x2="205.7" y2="61.3" stroke-width="0.90"/><line x1="205.7" y1="61.3" x2="212.1" y2="56.3" stroke-width="0.63"/><line x1="212.1" y1="56.3" x2="217.1" y2="53.9" stroke-width="0.50"/><line x1="212.1" y1="56.3" x2="216.3" y2="52.7" stroke-width="0.50"/><line x1="205.7" y1="61.3" x2="211.6" y2="57.5" stroke-width="0.63"/><line x1="211.6" y1="57.5" x2="217.1" y2="56.3" stroke-width="0.50"/><line x1="211.6" y1="57.5" x2="216.6" y2="56.3" stroke-width="0.50"/><line x1="199.0" y1="71.8" x2="193.0" y2="65.1" stroke-width="0.90"/><line x1="193.0" y1="65.1" x2="188.0" y2="61.0" stroke-width="0.63"/><line x1="188.0" y1="61.0" x2="183.5" y2="58.0" stroke-width="0.50"/><line x1="188.0" y1="61.0" x2="185.4" y2="56.8" stroke-width="0.50"/><line x1="193.0" y1="65.1" x2="188.7" y2="60.4" stroke-width="0.63"/><line x1="188.7" y1="60.4" x2="184.8" y2="57.3" stroke-width="0.50"/><line x1="188.7" y1="60.4" x2="186.7" y2="56.3" stroke-width="0.50"/><line x1="199.0" y1="74.8" x2="205.7" y2="69.6" stroke-width="0.90"/><line x1="205.7" y1="69.6" x2="211.5" y2="66.2" stroke-width="0.63"/><line x1="211.5" y1="66.2" x2="215.8" y2="64.5" stroke-width="0.50"/><line x1="211.5" y1="66.2" x2="216.0" y2="63.5" stroke-width="0.50"/><line x1="205.7" y1="69.6" x2="210.9" y2="66.7" stroke-width="0.63"/><line x1="210.9" y1="66.7" x2="215.1" y2="64.9" stroke-width="0.50"/><line x1="210.9" y1="66.7" x2="213.8" y2="63.3" stroke-width="0.50"/><line x1="210.9" y1="66.7" x2="214.5" y2="63.7" stroke-width="0.50"/><line x1="199.0" y1="77.8" x2="193.7" y2="71.8" stroke-width="0.90"/><line x1="193.7" y1="71.8" x2="191.0" y2="66.8" stroke-width="0.63"/><line x1="191.0" y1="66.8" x2="189.6" y2="62.5" stroke-width="0.50"/><line x1="191.0" y1="66.8" x2="188.4" y2="63.1" stroke-width="0.50"/><line x1="193.7" y1="71.8" x2="191.1" y2="66.3" stroke-width="0.63"/><line x1="191.1" y1="66.3" x2="190.5" y2="61.7" stroke-width="0.50"/><line x1="191.1" y1="66.3" x2="189.3" y2="62.4" stroke-width="0.50"/><line x1="191.1" y1="66.3" x2="190.1" y2="61.3" stroke-width="0.50"/><line x1="199.0" y1="80.9" x2="203.7" y2="75.6" stroke-width="0.90"/><line x1="203.7" y1="75.6" x2="207.4" y2="72.7" stroke-width="0.63"/><line x1="207.4" y1="72.7" x2="210.4" y2="70.5" stroke-width="0.50"/><line x1="207.4" y1="72.7" x2="210.1" y2="70.2" stroke-width="0.50"/><line x1="207.4" y1="72.7" x2="210.7" y2="71.0" stroke-width="0.50"/><line x1="203.7" y1="75.6" x2="207.2" y2="72.7" stroke-width="0.63"/><line x1="207.2" y1="72.7" x2="209.9" y2="70.4" stroke-width="0.50"/><line x1="207.2" y1="72.7" x2="209.5" y2="70.0" stroke-width="0.50"/><line x1="203.7" y1="75.6" x2="207.1" y2="72.5" stroke-width="0.63"/><line x1="207.1" y1="72.5" x2="208.8" y2="70.0" stroke-width="0.50"/><line x1="207.1" y1="72.5" x2="208.8" y2="69.7" stroke-width="0.50"/></g>
 <path d="M146 78 Q156 68 170 70 Q182 68 188 78 L188 96 L146 96Z" fill="#5e7a40" filter="url(#b1)"/><g filter="url(#leafB)"><path d="M146 78 Q156 68 170 70 Q182 68 188 78 L188 96 L146 96Z" fill="#3e5a2a"/></g>
 <path d="M210 72 Q228 64 246 76 L246 90 L210 90Z" fill="#4a6a34" filter="url(#b1)"/><g filter="url(#leafB)"><path d="M210 72 Q228 64 246 76 L246 90 L210 90Z" fill="#2e4a22"/></g>
 </g>
 <g filter="url(#b05)">
 <!-- left brick tower -->
 <rect x="0" y="51" width="40" height="70" fill="#8e4230"/>
 <rect x="18" y="53" width="15" height="66" fill="#b49074"/>
 <g stroke="#6a3a26" stroke-width="1"><line x1="25" y1="53" x2="25" y2="119"/><line x1="18" y1="66" x2="33" y2="66"/><line x1="18" y1="86" x2="33" y2="86"/><line x1="18" y1="104" x2="33" y2="104"/></g>
 <path d="M38 52 L52 82 L40 84Z" fill="#7a3622"/>
 <!-- left wing -->
 <path d="M38 84 L72 85 L90 108 L90 130 L38 130Z" fill="#6e3c24"/>
 <path d="M38 82 L72 83 L92 105 L88 109 L70 89 L38 88Z" fill="#35302e"/>
 <g stroke="#9a5a34" stroke-width="2"><line x1="46" y1="90" x2="46" y2="126"/><line x1="54" y1="90" x2="54" y2="128"/><line x1="62" y1="92" x2="62" y2="126"/><line x1="70" y1="95" x2="70" y2="124"/><line x1="78" y1="100" x2="78" y2="122"/></g>
 <rect x="77" y="82" width="7" height="14" fill="#8a4630"/>
 <!-- roof center -->
 <path d="M84 95 L140 96 L150 102 L248 84 L278 92 L250 97 L150 110 L90 108Z" fill="#6c7282"/>
 <!-- colonnade -->
 <path d="M90 108 L150 110 L250 97 L268 97 L268 124 L90 122Z" fill="#6e4a32"/>
 <g stroke="#3a2a20" stroke-width="2.5"><line x1="100" y1="110" x2="100" y2="120"/><line x1="115" y1="110" x2="115" y2="120"/><line x1="130" y1="110" x2="130" y2="120"/><line x1="160" y1="108" x2="160" y2="120"/><line x1="175" y1="106" x2="175" y2="120"/><line x1="190" y1="104" x2="190" y2="121"/><line x1="205" y1="102" x2="205" y2="122"/><line x1="220" y1="100" x2="220" y2="124"/><line x1="235" y1="98" x2="235" y2="124"/></g>
 <!-- right brick building -->
 <path d="M248 84 L285 68 L298 66 L298 132 L248 130Z" fill="#9c4630"/>
 <rect x="282" y="70" width="4" height="6" fill="#e0e0e0"/>
 <!-- stone wall -->
 <rect x="0" y="119" width="60" height="19" fill="#8a8e74"/>
 <!-- terraces -->
 <path d="M58 128 L90 118 L205 116 L232 122 L298 128 L298 136 L0 138Z" fill="#6c8a4a"/>
 <path d="M90 122 L200 120 L215 126 L95 127Z" fill="#8aa470"/>
 <!-- lawn -->
 <rect x="0" y="133" width="298" height="31" fill="url(#lawn2)"/>
 </g>
</g>

<!-- PHOTO 3: Indoor-Outdoor -->
<g transform="translate(874,475)" clip-path="url(#c3)">
 <rect width="298" height="197" fill="url(#sky3)"/>
 <g filter="url(#b05)">
 <!-- background trees -->
 <path d="M0 44 Q14 40 30 48 L32 66 L0 66Z" fill="#2c4624"/>
 <path d="M60 44 Q80 32 104 44 L110 60 L60 60Z" fill="#4c7a32"/>
 <path d="M118 54 Q140 44 160 54 L160 82 L118 82Z" fill="#36562a"/>
 <!-- building upper -->
 <path d="M6 65 L45 45 L158 80 L158 86 L6 86Z" fill="#e8ecf0"/>
 <path d="M47 49 L142 80 L142 94 L47 82Z" fill="url(#glass3)"/>
 <g stroke="#7a9ca0" stroke-width="0.8"><line x1="62" y1="54" x2="62" y2="84"/><line x1="78" y1="59" x2="78" y2="86"/><line x1="94" y1="64" x2="94" y2="88"/><line x1="110" y1="69" x2="110" y2="90"/><line x1="126" y1="74" x2="126" y2="92"/></g>
 <path d="M9 66 L46 49 L46 80 L9 80Z" fill="#d0d6de"/>
 <rect x="0" y="64" width="28" height="12" fill="#b8c0cc"/>
 <!-- brick band -->
 <rect x="0" y="76" width="104" height="24" fill="#b28474"/>
 <!-- lower brick -->
 <rect x="0" y="96" width="104" height="54" fill="#7e5444"/>
 <rect x="0" y="93" width="104" height="5" fill="#6a5e54"/>
 <rect x="0" y="110" width="8" height="40" fill="#8c909c"/>
 <rect x="21" y="107" width="10" height="36" fill="#5a7ca6"/>
 <rect x="37" y="106" width="10" height="37" fill="#c23444"/>
 <rect x="51" y="106" width="10" height="37" fill="#4a7cb2"/>
 <rect x="75" y="115" width="23" height="33" fill="#3a2c26"/>
 <!-- dark storefront -->
 <rect x="104" y="88" width="90" height="56" fill="#3c3a2e"/>
 <rect x="104" y="101" width="50" height="6" fill="#5c5c52"/>
 <rect x="104" y="90" width="3" height="52" fill="#4e8a4e"/>
 <!-- right building -->
 <rect x="190" y="107" width="108" height="32" fill="#8e8694"/>
 <rect x="198" y="116" width="8" height="14" fill="#3c3a40"/>
 <rect x="252" y="112" width="20" height="20" fill="#7c5c5a"/>
 </g>
 <!-- big tree canopy -->
 <path d="M142 28 Q150 5 175 0 L298 0 L298 104 Q284 112 268 104 Q250 110 232 104 Q214 112 196 106 Q176 116 160 108 Q146 106 140 96 Q134 82 142 72 Q132 54 142 28Z" fill="#b4bcc0" filter="url(#b1)"/>
 <path d="M142 28 Q150 5 175 0 L230 0 Q226 40 236 70 Q230 100 214 112 L160 110 Q134 92 142 28Z" fill="#4a6236" filter="url(#b2)"/>
 <g filter="url(#b05)">
 <path d="M268 70 L278 72 Q282 100 292 134 L272 136 Q272 104 268 70Z" fill="#8c6040"/>
 <g stroke="#6a5038" fill="none" stroke-width="2.2"><path d="M272 80 Q262 60 240 42"/><path d="M274 76 Q280 50 292 20"/><path d="M270 90 Q240 80 214 70"/><path d="M276 60 Q270 36 262 10" stroke-width="1.5"/><path d="M240 42 Q226 30 210 26" stroke-width="1.4"/></g>
 </g>
 <g filter="url(#leafA)"><path d="M142 28 Q150 5 175 0 L298 0 L298 104 Q284 112 268 104 Q250 110 232 104 Q214 112 196 106 Q176 116 160 108 Q146 106 140 96 Q134 82 142 72 Q132 54 142 28Z" fill="#2e4822"/></g>
 <g filter="url(#leafB)"><path d="M142 40 Q150 10 180 4 L240 4 Q230 40 220 60 Q230 90 210 112 L160 110 Q138 100 142 40Z" fill="#4e6e32"/></g>
 <g filter="url(#leafC)"><path d="M146 60 Q170 50 200 62 Q215 80 205 100 Q180 110 150 100Z" fill="#7e9648"/></g>
 <g filter="url(#leafB)"><path d="M160 0 L250 0 Q240 20 200 24 Q170 20 160 0Z" fill="#263e1c"/></g>
 <path d="M270 84 L279 84 Q282 106 292 134 L272 136 Q273 108 270 84Z" fill="#8c6040" filter="url(#b05)"/>
 <path d="M272 92 Q252 84 232 80" stroke="#6a5038" stroke-width="2" fill="none" filter="url(#b05)"/>
 <g filter="url(#b05)">
 <!-- shrubs -->
 <path d="M160 138 Q200 130 240 134 Q270 130 298 134 L298 152 L160 150Z" fill="#4a6c30"/>
 <!-- plaza -->
 <path d="M0 146 L160 146 L215 150 L298 154 L298 197 L0 197Z" fill="url(#plaza3)"/>
 <path d="M0 160 L120 156 L160 158 L0 172Z" fill="#a8a49e" opacity="0.55"/>
 <path d="M0 182 L200 170 L298 168 L298 174 L0 190Z" fill="#b4b0aa" opacity="0.55"/>
 <path d="M200 160 L298 158 L298 166 L230 168Z" fill="#5a6a3a"/>
 <!-- benches & people -->
 <rect x="160" y="140" width="44" height="10" fill="#7a7870"/>
 <rect x="216" y="146" width="50" height="12" fill="#8a8880"/>
 <rect x="78" y="125" width="7" height="22" fill="#c43a2a"/>
 <rect x="112" y="124" width="6" height="28" fill="#caa292"/>
 <rect x="128" y="134" width="8" height="18" fill="#2a2420"/>
 <rect x="218" y="132" width="8" height="24" fill="#6c4c6c"/>
 <rect x="234" y="132" width="8" height="24" fill="#2a2220"/>
 <rect x="154" y="130" width="4" height="18" fill="#c04030"/>
 </g>
</g>

<text x="1020.00" y="271.30" font-family="Liberation Sans" font-size="19.0" font-weight="normal" fill="#f8f2e4" textLength="142.79" lengthAdjust="spacingAndGlyphs">Warm &amp; Inviting</text>
<text x="968.09" y="452.50" font-family="Liberation Sans" font-size="19.0" font-weight="normal" fill="#eef8e2" textLength="194.07" lengthAdjust="spacingAndGlyphs">Integrated Landscape</text>
<text x="1022.16" y="663.30" font-family="Liberation Sans" font-size="19.4" font-weight="normal" fill="#383838" textLength="140.69" lengthAdjust="spacingAndGlyphs">Indoor-Outdoor</text>
<!-- footer -->
<g>
<path d="M48.7 717.3 A15.2 15.2 0 1 0 47.8 735.8" fill="none" stroke="#cfcfcf" stroke-width="1.5"/>
<path d="M40.2 729.6 L59.3 729.6 M59.6 709 L59.4 730.5 L55.6 739.6 M59.4 729.8 L66.8 725.8" fill="none" stroke="#a9a9a9" stroke-width="1.2"/>
<g font-family="Liberation Sans" font-weight="bold" font-size="6.6" fill="#1e1e1e">
<text x="82.1" y="729.6">G</text><text x="93.2" y="729.6">R</text><text x="104.2" y="729.6">O</text><text x="115.6" y="729.6">U</text><text x="127" y="729.6">P</text><text x="145.9" y="729.6">4</text>
</g>
<line x1="159" y1="726.7" x2="720" y2="726.7" stroke="#6e6e6e" stroke-width="1.7"/>
<rect x="719" y="714" width="464.8" height="12.4" fill="#bdd43a"/>
<rect x="719" y="726.4" width="464.8" height="29" fill="#787878"/>
<text x="795.2" y="741.5" font-family="Liberation Sans" font-size="16.4" fill="#eeeeee" textLength="387.5" lengthAdjust="spacing">SAN BRUNO RECREATION &amp; AQUATICS CENTER</text>
<text x="1058.6" y="754.9" font-family="Liberation Sans" font-size="10.5" fill="#d6d6d6" textLength="125" lengthAdjust="spacing">CONCEPTUAL DESIGN</text>
</g>
</svg>
</body></html>
